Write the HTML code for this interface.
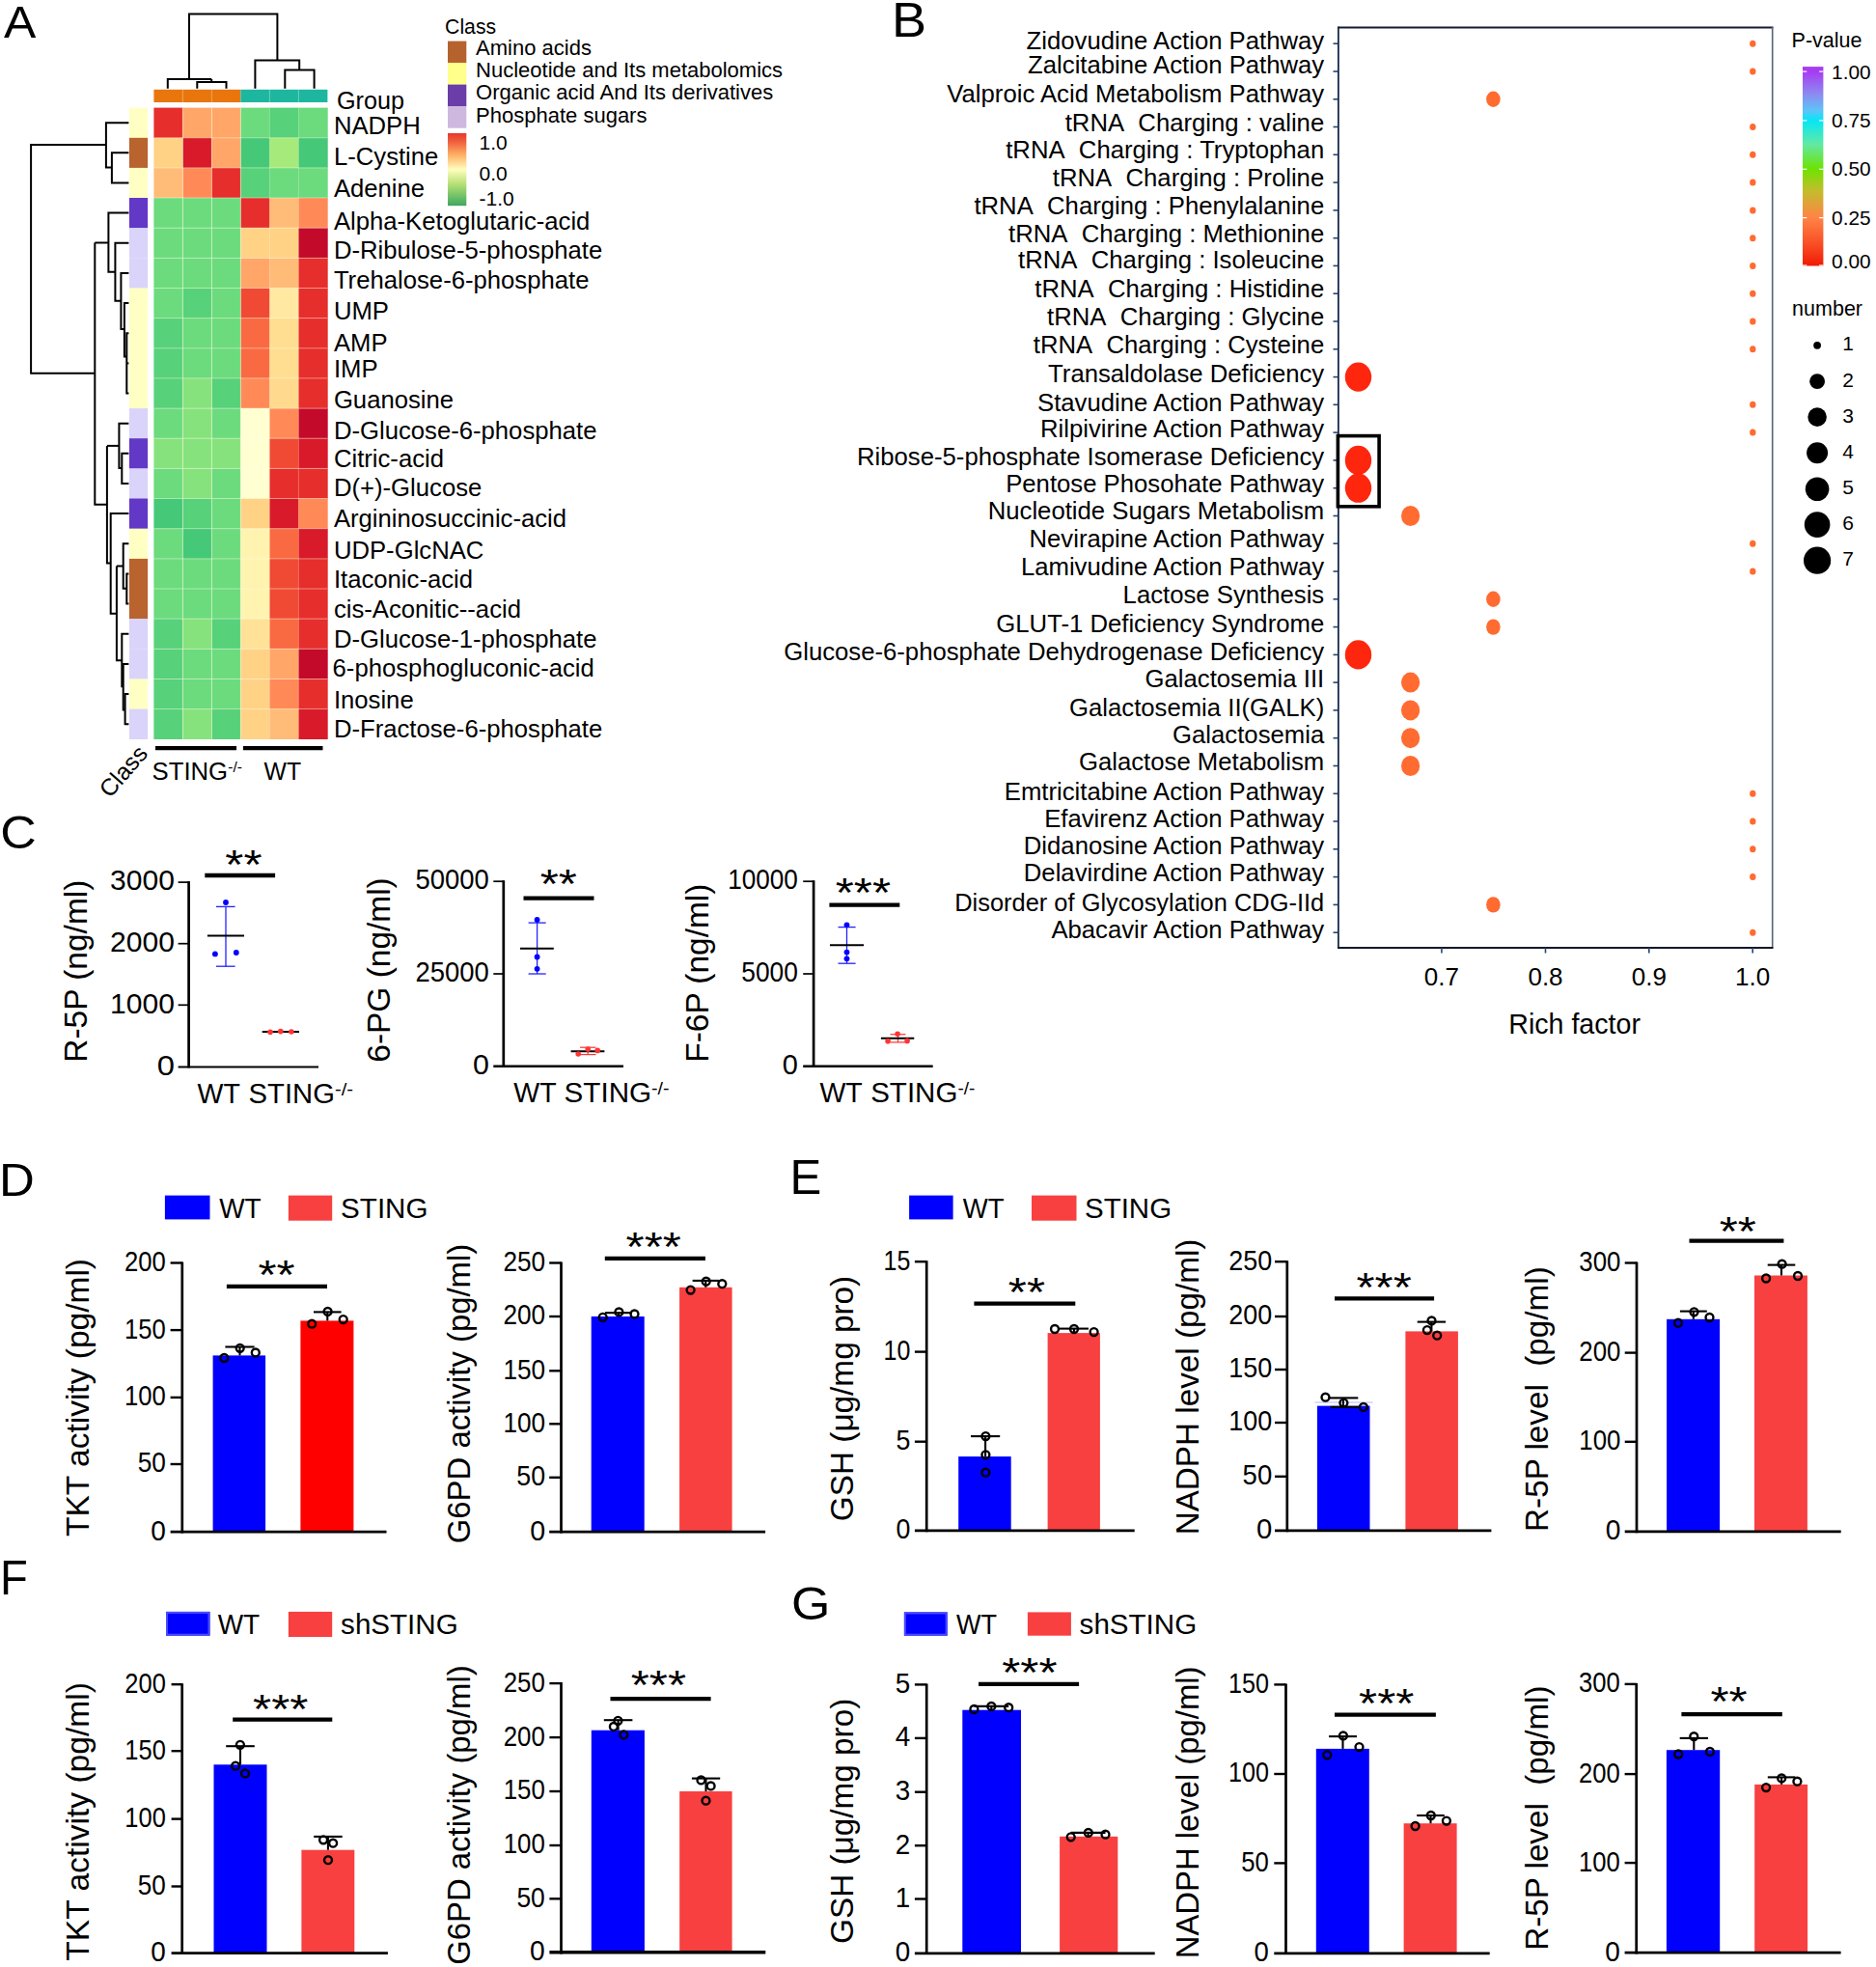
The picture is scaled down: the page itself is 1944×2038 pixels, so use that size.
<!DOCTYPE html>
<html lang="en"><head><meta charset="utf-8"><title>Figure</title>
<style>html,body{margin:0;padding:0;background:#fff}svg{display:block}text{font-family:'Liberation Sans', sans-serif;fill:#000;white-space:pre}</style></head><body>
<svg width="1944" height="2038" viewBox="0 0 1944 2038">
<defs>
<linearGradient id="gA" x1="0" y1="0" x2="0" y2="1"><stop offset="0" stop-color="#E5382E"/><stop offset="0.12" stop-color="#F0603C"/><stop offset="0.3" stop-color="#FDB165"/><stop offset="0.5" stop-color="#FFFDBE"/><stop offset="0.7" stop-color="#B7E075"/><stop offset="0.88" stop-color="#6CBF68"/><stop offset="1" stop-color="#3FA760"/></linearGradient>
<linearGradient id="gB" x1="0" y1="0" x2="0" y2="1"><stop offset="0" stop-color="#A63CF2"/><stop offset="0.024" stop-color="#A63CF2"/><stop offset="0.14" stop-color="#8C8CF0"/><stop offset="0.22" stop-color="#5CC4F8"/><stop offset="0.27" stop-color="#06E6F6"/><stop offset="0.39" stop-color="#62E9A4"/><stop offset="0.514" stop-color="#6EE200"/><stop offset="0.62" stop-color="#C2BE2C"/><stop offset="0.757" stop-color="#FF8446"/><stop offset="0.9" stop-color="#F84A22"/><stop offset="1" stop-color="#F01A04"/></linearGradient>
</defs>
<rect width="1944" height="2038" fill="#fff"/>
<text transform="translate(4.05,39.00) scale(1.071,1)" font-size="46.7">A</text>
<text transform="translate(924.06,37.50) scale(1.081,1)" font-size="50.1">B</text>
<text transform="translate(0.20,878.92) scale(1.071,1)" font-size="48.5">C</text>
<text transform="translate(-1.07,1238.60) scale(1.075,1)" font-size="47.4">D</text>
<text transform="translate(818.47,1237.30) scale(0.969,1)" font-size="50.7">E</text>
<text transform="translate(0.03,1652.00) scale(0.951,1)" font-size="49.6">F</text>
<text transform="translate(820.00,1677.81) scale(1.059,1)" font-size="49.0">G</text>
<g id="panelA">
<rect x="159.4" y="111.6" width="30.3" height="31.4" fill="#E62E2C"/>
<rect x="189.4" y="111.6" width="30.3" height="31.4" fill="#FFA668"/>
<rect x="219.4" y="111.6" width="30.3" height="31.4" fill="#FFA668"/>
<rect x="249.4" y="111.6" width="30.3" height="31.4" fill="#6BDB7E"/>
<rect x="279.4" y="111.6" width="30.3" height="31.4" fill="#57D17A"/>
<rect x="309.4" y="111.6" width="30.3" height="31.4" fill="#6BDB7E"/>
<rect x="159.4" y="142.8" width="30.3" height="31.4" fill="#FFD285"/>
<rect x="189.4" y="142.8" width="30.3" height="31.4" fill="#D81A2A"/>
<rect x="219.4" y="142.8" width="30.3" height="31.4" fill="#FFA668"/>
<rect x="249.4" y="142.8" width="30.3" height="31.4" fill="#45C877"/>
<rect x="279.4" y="142.8" width="30.3" height="31.4" fill="#A6EA7C"/>
<rect x="309.4" y="142.8" width="30.3" height="31.4" fill="#45C877"/>
<rect x="159.4" y="173.9" width="30.3" height="31.4" fill="#FFBC78"/>
<rect x="189.4" y="173.9" width="30.3" height="31.4" fill="#FF8A58"/>
<rect x="219.4" y="173.9" width="30.3" height="31.4" fill="#E62E2C"/>
<rect x="249.4" y="173.9" width="30.3" height="31.4" fill="#57D17A"/>
<rect x="279.4" y="173.9" width="30.3" height="31.4" fill="#6BDB7E"/>
<rect x="309.4" y="173.9" width="30.3" height="31.4" fill="#6BDB7E"/>
<rect x="159.4" y="205.0" width="30.3" height="31.4" fill="#6BDB7E"/>
<rect x="189.4" y="205.0" width="30.3" height="31.4" fill="#6BDB7E"/>
<rect x="219.4" y="205.0" width="30.3" height="31.4" fill="#6BDB7E"/>
<rect x="249.4" y="205.0" width="30.3" height="31.4" fill="#E62E2C"/>
<rect x="279.4" y="205.0" width="30.3" height="31.4" fill="#FFBC78"/>
<rect x="309.4" y="205.0" width="30.3" height="31.4" fill="#FF8A58"/>
<rect x="159.4" y="236.2" width="30.3" height="31.4" fill="#6BDB7E"/>
<rect x="189.4" y="236.2" width="30.3" height="31.4" fill="#6BDB7E"/>
<rect x="219.4" y="236.2" width="30.3" height="31.4" fill="#6BDB7E"/>
<rect x="249.4" y="236.2" width="30.3" height="31.4" fill="#FFD285"/>
<rect x="279.4" y="236.2" width="30.3" height="31.4" fill="#FFD285"/>
<rect x="309.4" y="236.2" width="30.3" height="31.4" fill="#C40A2A"/>
<rect x="159.4" y="267.4" width="30.3" height="31.4" fill="#6BDB7E"/>
<rect x="189.4" y="267.4" width="30.3" height="31.4" fill="#6BDB7E"/>
<rect x="219.4" y="267.4" width="30.3" height="31.4" fill="#6BDB7E"/>
<rect x="249.4" y="267.4" width="30.3" height="31.4" fill="#FFA668"/>
<rect x="279.4" y="267.4" width="30.3" height="31.4" fill="#FFBC78"/>
<rect x="309.4" y="267.4" width="30.3" height="31.4" fill="#E62E2C"/>
<rect x="159.4" y="298.5" width="30.3" height="31.4" fill="#6BDB7E"/>
<rect x="189.4" y="298.5" width="30.3" height="31.4" fill="#57D17A"/>
<rect x="219.4" y="298.5" width="30.3" height="31.4" fill="#6BDB7E"/>
<rect x="249.4" y="298.5" width="30.3" height="31.4" fill="#F04A34"/>
<rect x="279.4" y="298.5" width="30.3" height="31.4" fill="#FFE8A2"/>
<rect x="309.4" y="298.5" width="30.3" height="31.4" fill="#E62E2C"/>
<rect x="159.4" y="329.6" width="30.3" height="31.4" fill="#57D17A"/>
<rect x="189.4" y="329.6" width="30.3" height="31.4" fill="#6BDB7E"/>
<rect x="219.4" y="329.6" width="30.3" height="31.4" fill="#6BDB7E"/>
<rect x="249.4" y="329.6" width="30.3" height="31.4" fill="#FA6A42"/>
<rect x="279.4" y="329.6" width="30.3" height="31.4" fill="#FFDE92"/>
<rect x="309.4" y="329.6" width="30.3" height="31.4" fill="#E62E2C"/>
<rect x="159.4" y="360.8" width="30.3" height="31.4" fill="#57D17A"/>
<rect x="189.4" y="360.8" width="30.3" height="31.4" fill="#6BDB7E"/>
<rect x="219.4" y="360.8" width="30.3" height="31.4" fill="#6BDB7E"/>
<rect x="249.4" y="360.8" width="30.3" height="31.4" fill="#FA6A42"/>
<rect x="279.4" y="360.8" width="30.3" height="31.4" fill="#FFDE92"/>
<rect x="309.4" y="360.8" width="30.3" height="31.4" fill="#E62E2C"/>
<rect x="159.4" y="391.9" width="30.3" height="31.4" fill="#57D17A"/>
<rect x="189.4" y="391.9" width="30.3" height="31.4" fill="#86E27C"/>
<rect x="219.4" y="391.9" width="30.3" height="31.4" fill="#57D17A"/>
<rect x="249.4" y="391.9" width="30.3" height="31.4" fill="#FF8A58"/>
<rect x="279.4" y="391.9" width="30.3" height="31.4" fill="#FFDA8E"/>
<rect x="309.4" y="391.9" width="30.3" height="31.4" fill="#E62E2C"/>
<rect x="159.4" y="423.1" width="30.3" height="31.4" fill="#6BDB7E"/>
<rect x="189.4" y="423.1" width="30.3" height="31.4" fill="#86E27C"/>
<rect x="219.4" y="423.1" width="30.3" height="31.4" fill="#6BDB7E"/>
<rect x="249.4" y="423.1" width="30.3" height="31.4" fill="#FFFFD2"/>
<rect x="279.4" y="423.1" width="30.3" height="31.4" fill="#FF8A58"/>
<rect x="309.4" y="423.1" width="30.3" height="31.4" fill="#C40A2A"/>
<rect x="159.4" y="454.2" width="30.3" height="31.4" fill="#86E27C"/>
<rect x="189.4" y="454.2" width="30.3" height="31.4" fill="#86E27C"/>
<rect x="219.4" y="454.2" width="30.3" height="31.4" fill="#86E27C"/>
<rect x="249.4" y="454.2" width="30.3" height="31.4" fill="#FFFFD2"/>
<rect x="279.4" y="454.2" width="30.3" height="31.4" fill="#F04A34"/>
<rect x="309.4" y="454.2" width="30.3" height="31.4" fill="#D81A2A"/>
<rect x="159.4" y="485.4" width="30.3" height="31.4" fill="#6BDB7E"/>
<rect x="189.4" y="485.4" width="30.3" height="31.4" fill="#86E27C"/>
<rect x="219.4" y="485.4" width="30.3" height="31.4" fill="#6BDB7E"/>
<rect x="249.4" y="485.4" width="30.3" height="31.4" fill="#FFFFD2"/>
<rect x="279.4" y="485.4" width="30.3" height="31.4" fill="#E62E2C"/>
<rect x="309.4" y="485.4" width="30.3" height="31.4" fill="#E62E2C"/>
<rect x="159.4" y="516.5" width="30.3" height="31.4" fill="#45C877"/>
<rect x="189.4" y="516.5" width="30.3" height="31.4" fill="#57D17A"/>
<rect x="219.4" y="516.5" width="30.3" height="31.4" fill="#6BDB7E"/>
<rect x="249.4" y="516.5" width="30.3" height="31.4" fill="#FFD285"/>
<rect x="279.4" y="516.5" width="30.3" height="31.4" fill="#D81A2A"/>
<rect x="309.4" y="516.5" width="30.3" height="31.4" fill="#FF8A58"/>
<rect x="159.4" y="547.7" width="30.3" height="31.4" fill="#6BDB7E"/>
<rect x="189.4" y="547.7" width="30.3" height="31.4" fill="#45C877"/>
<rect x="219.4" y="547.7" width="30.3" height="31.4" fill="#6BDB7E"/>
<rect x="249.4" y="547.7" width="30.3" height="31.4" fill="#FFF3B0"/>
<rect x="279.4" y="547.7" width="30.3" height="31.4" fill="#FA6A42"/>
<rect x="309.4" y="547.7" width="30.3" height="31.4" fill="#D81A2A"/>
<rect x="159.4" y="578.9" width="30.3" height="31.4" fill="#6BDB7E"/>
<rect x="189.4" y="578.9" width="30.3" height="31.4" fill="#6BDB7E"/>
<rect x="219.4" y="578.9" width="30.3" height="31.4" fill="#6BDB7E"/>
<rect x="249.4" y="578.9" width="30.3" height="31.4" fill="#FFF3B0"/>
<rect x="279.4" y="578.9" width="30.3" height="31.4" fill="#F04A34"/>
<rect x="309.4" y="578.9" width="30.3" height="31.4" fill="#E62E2C"/>
<rect x="159.4" y="610.0" width="30.3" height="31.4" fill="#6BDB7E"/>
<rect x="189.4" y="610.0" width="30.3" height="31.4" fill="#6BDB7E"/>
<rect x="219.4" y="610.0" width="30.3" height="31.4" fill="#6BDB7E"/>
<rect x="249.4" y="610.0" width="30.3" height="31.4" fill="#FFF3B0"/>
<rect x="279.4" y="610.0" width="30.3" height="31.4" fill="#F04A34"/>
<rect x="309.4" y="610.0" width="30.3" height="31.4" fill="#E62E2C"/>
<rect x="159.4" y="641.1" width="30.3" height="31.4" fill="#57D17A"/>
<rect x="189.4" y="641.1" width="30.3" height="31.4" fill="#86E27C"/>
<rect x="219.4" y="641.1" width="30.3" height="31.4" fill="#57D17A"/>
<rect x="249.4" y="641.1" width="30.3" height="31.4" fill="#FFE298"/>
<rect x="279.4" y="641.1" width="30.3" height="31.4" fill="#FA6A42"/>
<rect x="309.4" y="641.1" width="30.3" height="31.4" fill="#E62E2C"/>
<rect x="159.4" y="672.3" width="30.3" height="31.4" fill="#57D17A"/>
<rect x="189.4" y="672.3" width="30.3" height="31.4" fill="#6BDB7E"/>
<rect x="219.4" y="672.3" width="30.3" height="31.4" fill="#6BDB7E"/>
<rect x="249.4" y="672.3" width="30.3" height="31.4" fill="#FFD285"/>
<rect x="279.4" y="672.3" width="30.3" height="31.4" fill="#FFA668"/>
<rect x="309.4" y="672.3" width="30.3" height="31.4" fill="#C40A2A"/>
<rect x="159.4" y="703.5" width="30.3" height="31.4" fill="#57D17A"/>
<rect x="189.4" y="703.5" width="30.3" height="31.4" fill="#6BDB7E"/>
<rect x="219.4" y="703.5" width="30.3" height="31.4" fill="#6BDB7E"/>
<rect x="249.4" y="703.5" width="30.3" height="31.4" fill="#FFD285"/>
<rect x="279.4" y="703.5" width="30.3" height="31.4" fill="#FF8A58"/>
<rect x="309.4" y="703.5" width="30.3" height="31.4" fill="#E62E2C"/>
<rect x="159.4" y="734.6" width="30.3" height="31.4" fill="#57D17A"/>
<rect x="189.4" y="734.6" width="30.3" height="31.4" fill="#86E27C"/>
<rect x="219.4" y="734.6" width="30.3" height="31.4" fill="#57D17A"/>
<rect x="249.4" y="734.6" width="30.3" height="31.4" fill="#FFD285"/>
<rect x="279.4" y="734.6" width="30.3" height="31.4" fill="#FFBC78"/>
<rect x="309.4" y="734.6" width="30.3" height="31.4" fill="#D81A2A"/>
<line x1="189.4" y1="111.6" x2="189.4" y2="765.8" stroke="rgba(255,255,225,0.55)" stroke-width="1.00"/>
<line x1="219.4" y1="111.6" x2="219.4" y2="765.8" stroke="rgba(255,255,225,0.55)" stroke-width="1.00"/>
<line x1="249.4" y1="111.6" x2="249.4" y2="765.8" stroke="rgba(255,255,225,0.55)" stroke-width="1.00"/>
<line x1="279.4" y1="111.6" x2="279.4" y2="765.8" stroke="rgba(255,255,225,0.18)" stroke-width="1.00"/>
<line x1="309.4" y1="111.6" x2="309.4" y2="765.8" stroke="rgba(255,255,225,0.18)" stroke-width="1.00"/>
<line x1="159.4" y1="142.8" x2="339.4" y2="142.8" stroke="rgba(255,255,225,0.45)" stroke-width="1.00"/>
<line x1="159.4" y1="173.9" x2="339.4" y2="173.9" stroke="rgba(255,255,225,0.45)" stroke-width="1.00"/>
<line x1="159.4" y1="205.0" x2="339.4" y2="205.0" stroke="rgba(255,255,225,0.45)" stroke-width="1.00"/>
<line x1="159.4" y1="236.2" x2="339.4" y2="236.2" stroke="rgba(255,255,225,0.45)" stroke-width="1.00"/>
<line x1="159.4" y1="267.4" x2="339.4" y2="267.4" stroke="rgba(255,255,225,0.45)" stroke-width="1.00"/>
<line x1="159.4" y1="298.5" x2="339.4" y2="298.5" stroke="rgba(255,255,225,0.45)" stroke-width="1.00"/>
<line x1="159.4" y1="329.6" x2="339.4" y2="329.6" stroke="rgba(255,255,225,0.45)" stroke-width="1.00"/>
<line x1="159.4" y1="360.8" x2="339.4" y2="360.8" stroke="rgba(255,255,225,0.45)" stroke-width="1.00"/>
<line x1="159.4" y1="391.9" x2="339.4" y2="391.9" stroke="rgba(255,255,225,0.45)" stroke-width="1.00"/>
<line x1="159.4" y1="423.1" x2="339.4" y2="423.1" stroke="rgba(255,255,225,0.45)" stroke-width="1.00"/>
<line x1="159.4" y1="454.2" x2="339.4" y2="454.2" stroke="rgba(255,255,225,0.45)" stroke-width="1.00"/>
<line x1="159.4" y1="485.4" x2="339.4" y2="485.4" stroke="rgba(255,255,225,0.45)" stroke-width="1.00"/>
<line x1="159.4" y1="516.5" x2="339.4" y2="516.5" stroke="rgba(255,255,225,0.45)" stroke-width="1.00"/>
<line x1="159.4" y1="547.7" x2="339.4" y2="547.7" stroke="rgba(255,255,225,0.45)" stroke-width="1.00"/>
<line x1="159.4" y1="578.9" x2="339.4" y2="578.9" stroke="rgba(255,255,225,0.45)" stroke-width="1.00"/>
<line x1="159.4" y1="610.0" x2="339.4" y2="610.0" stroke="rgba(255,255,225,0.45)" stroke-width="1.00"/>
<line x1="159.4" y1="641.1" x2="339.4" y2="641.1" stroke="rgba(255,255,225,0.45)" stroke-width="1.00"/>
<line x1="159.4" y1="672.3" x2="339.4" y2="672.3" stroke="rgba(255,255,225,0.45)" stroke-width="1.00"/>
<line x1="159.4" y1="703.5" x2="339.4" y2="703.5" stroke="rgba(255,255,225,0.45)" stroke-width="1.00"/>
<line x1="159.4" y1="734.6" x2="339.4" y2="734.6" stroke="rgba(255,255,225,0.45)" stroke-width="1.00"/>
<rect x="159.4" y="92.8" width="90.0" height="13.2" fill="#E8760C"/>
<rect x="249.4" y="92.8" width="90.0" height="13.2" fill="#1DB7A0"/>
<line x1="189.4" y1="92.8" x2="189.4" y2="106.0" stroke="rgba(255,255,225,0.35)" stroke-width="1.00"/>
<line x1="219.4" y1="92.8" x2="219.4" y2="106.0" stroke="rgba(255,255,225,0.35)" stroke-width="1.00"/>
<line x1="279.4" y1="92.8" x2="279.4" y2="106.0" stroke="rgba(255,255,225,0.35)" stroke-width="1.00"/>
<line x1="309.4" y1="92.8" x2="309.4" y2="106.0" stroke="rgba(255,255,225,0.35)" stroke-width="1.00"/>
<rect x="133.9" y="111.6" width="19.2" height="31.4" fill="#FFFFC4"/>
<rect x="133.9" y="142.8" width="19.2" height="31.4" fill="#B9632F"/>
<rect x="133.9" y="173.9" width="19.2" height="31.4" fill="#FFFFC4"/>
<rect x="133.9" y="205.0" width="19.2" height="31.4" fill="#6238C6"/>
<rect x="133.9" y="236.2" width="19.2" height="31.4" fill="#DAD4FA"/>
<rect x="133.9" y="267.4" width="19.2" height="31.4" fill="#DAD4FA"/>
<rect x="133.9" y="298.5" width="19.2" height="31.4" fill="#FFFFC4"/>
<rect x="133.9" y="329.6" width="19.2" height="31.4" fill="#FFFFC4"/>
<rect x="133.9" y="360.8" width="19.2" height="31.4" fill="#FFFFC4"/>
<rect x="133.9" y="391.9" width="19.2" height="31.4" fill="#FFFFC4"/>
<rect x="133.9" y="423.1" width="19.2" height="31.4" fill="#DAD4FA"/>
<rect x="133.9" y="454.2" width="19.2" height="31.4" fill="#6238C6"/>
<rect x="133.9" y="485.4" width="19.2" height="31.4" fill="#DAD4FA"/>
<rect x="133.9" y="516.5" width="19.2" height="31.4" fill="#6238C6"/>
<rect x="133.9" y="547.7" width="19.2" height="31.4" fill="#FFFFC4"/>
<rect x="133.9" y="578.9" width="19.2" height="31.4" fill="#B9632F"/>
<rect x="133.9" y="610.0" width="19.2" height="31.4" fill="#B9632F"/>
<rect x="133.9" y="641.1" width="19.2" height="31.4" fill="#DAD4FA"/>
<rect x="133.9" y="672.3" width="19.2" height="31.4" fill="#DAD4FA"/>
<rect x="133.9" y="703.5" width="19.2" height="31.4" fill="#FFFFC4"/>
<rect x="133.9" y="734.6" width="19.2" height="31.4" fill="#DAD4FA"/>
<path d="M196,82 V14.5 H287.4 V62.5" fill="none" stroke="#000" stroke-width="2.0" stroke-linejoin="miter"/>
<path d="M173.8,91.7 V82 H219.2" fill="none" stroke="#000" stroke-width="2.0" stroke-linejoin="miter"/>
<path d="M204.3,91.7 V84.9 H234.5 V91.7" fill="none" stroke="#000" stroke-width="2.0" stroke-linejoin="miter"/>
<path d="M219.2,84.9 V82" fill="none" stroke="#000" stroke-width="2.0" stroke-linejoin="miter"/>
<path d="M264.4,91.7 V62.5 H310.2 V72.5" fill="none" stroke="#000" stroke-width="2.0" stroke-linejoin="miter"/>
<path d="M295.3,91.7 V72.5 H325.6 V91.7" fill="none" stroke="#000" stroke-width="2.0" stroke-linejoin="miter"/>
<path d="M109.9,150.1 H32.1 V386.8 H98.3" fill="none" stroke="#000" stroke-width="2.0" stroke-linejoin="miter"/>
<path d="M133.4,127.2 H109.9 V173.4 H115.9" fill="none" stroke="#000" stroke-width="2.0" stroke-linejoin="miter"/>
<path d="M133.4,158.3 H115.9 V189.5 H133.4" fill="none" stroke="#000" stroke-width="2.0" stroke-linejoin="miter"/>
<path d="M98.3,251.5 V522.8 H110.9" fill="none" stroke="#000" stroke-width="2.0" stroke-linejoin="miter"/>
<path d="M98.3,251.5 H112.4" fill="none" stroke="#000" stroke-width="2.0" stroke-linejoin="miter"/>
<path d="M133.4,220.6 H112.4 V281.8 H119.4" fill="none" stroke="#000" stroke-width="2.0" stroke-linejoin="miter"/>
<path d="M133.4,251.8 H119.4 V311.7 H125.4" fill="none" stroke="#000" stroke-width="2.0" stroke-linejoin="miter"/>
<path d="M133.4,282.9 H125.4 V341 H128.9" fill="none" stroke="#000" stroke-width="2.0" stroke-linejoin="miter"/>
<path d="M133.4,314.1 H128.9 V369.6 H131.3" fill="none" stroke="#000" stroke-width="2.0" stroke-linejoin="miter"/>
<path d="M133.4,345.2 H131.3 V407.5 H133.4" fill="none" stroke="#000" stroke-width="2.0" stroke-linejoin="miter"/>
<path d="M131.3,376.4 H133.4" fill="none" stroke="#000" stroke-width="2.0" stroke-linejoin="miter"/>
<path d="M110.9,461.9 V583.6 H114.7" fill="none" stroke="#000" stroke-width="2.0" stroke-linejoin="miter"/>
<path d="M110.9,461.9 H123.4" fill="none" stroke="#000" stroke-width="2.0" stroke-linejoin="miter"/>
<path d="M133.4,438.7 H123.4 V485 H126.3" fill="none" stroke="#000" stroke-width="2.0" stroke-linejoin="miter"/>
<path d="M133.4,469.8 H126.3 V501.0 H133.4" fill="none" stroke="#000" stroke-width="2.0" stroke-linejoin="miter"/>
<path d="M133.4,532.1 H114.7 V635.8 H120.9" fill="none" stroke="#000" stroke-width="2.0" stroke-linejoin="miter"/>
<path d="M120.9,586.5 V684.2 H126.3" fill="none" stroke="#000" stroke-width="2.0" stroke-linejoin="miter"/>
<path d="M120.9,586.5 H127.7" fill="none" stroke="#000" stroke-width="2.0" stroke-linejoin="miter"/>
<path d="M133.4,563.3 H127.7 V609.7 H131.3" fill="none" stroke="#000" stroke-width="2.0" stroke-linejoin="miter"/>
<path d="M133.4,594.4 H131.3 V625.6 H133.4" fill="none" stroke="#000" stroke-width="2.0" stroke-linejoin="miter"/>
<path d="M133.4,656.7 H126.3 V711.2 H127.7" fill="none" stroke="#000" stroke-width="2.0" stroke-linejoin="miter"/>
<path d="M133.4,687.9 H127.7 V735.4 H129.6" fill="none" stroke="#000" stroke-width="2.0" stroke-linejoin="miter"/>
<path d="M133.4,719.0 H129.6 V750.2 H133.4" fill="none" stroke="#000" stroke-width="2.0" stroke-linejoin="miter"/>
<text x="349.0" y="112.8" font-size="25.2">Group</text>
<text x="345.9" y="138.7" font-size="26.2" textLength="89.9" lengthAdjust="spacingAndGlyphs">NADPH</text>
<text x="345.9" y="170.7" font-size="26.2" textLength="108.5" lengthAdjust="spacingAndGlyphs">L-Cystine</text>
<text x="345.9" y="204.2" font-size="26.2" textLength="94.2" lengthAdjust="spacingAndGlyphs">Adenine</text>
<text x="345.9" y="237.7" font-size="26.2" textLength="265.5" lengthAdjust="spacingAndGlyphs">Alpha-Ketoglutaric-acid</text>
<text x="345.9" y="267.9" font-size="26.2" textLength="278.3" lengthAdjust="spacingAndGlyphs">D-Ribulose-5-phosphate</text>
<text x="345.9" y="299.4" font-size="26.2" textLength="264.6" lengthAdjust="spacingAndGlyphs">Trehalose-6-phosphate</text>
<text x="345.9" y="330.6" font-size="26.2" textLength="57.1" lengthAdjust="spacingAndGlyphs">UMP</text>
<text x="345.9" y="363.5" font-size="26.2" textLength="55.6" lengthAdjust="spacingAndGlyphs">AMP</text>
<text x="345.9" y="391.1" font-size="26.2" textLength="45.7" lengthAdjust="spacingAndGlyphs">IMP</text>
<text x="345.9" y="422.7" font-size="26.2" textLength="124.2" lengthAdjust="spacingAndGlyphs">Guanosine</text>
<text x="345.9" y="455.1" font-size="26.2" textLength="272.6" lengthAdjust="spacingAndGlyphs">D-Glucose-6-phosphate</text>
<text x="345.9" y="483.9" font-size="26.2" textLength="114.1" lengthAdjust="spacingAndGlyphs">Citric-acid</text>
<text x="345.9" y="514.4" font-size="26.2" textLength="153.4" lengthAdjust="spacingAndGlyphs">D(+)-Glucose</text>
<text x="345.9" y="545.8" font-size="26.2" textLength="241.2" lengthAdjust="spacingAndGlyphs">Argininosuccinic-acid</text>
<text x="345.9" y="579.3" font-size="26.2" textLength="155.5" lengthAdjust="spacingAndGlyphs">UDP-GlcNAC</text>
<text x="345.9" y="609.3" font-size="26.2" textLength="144.2" lengthAdjust="spacingAndGlyphs">Itaconic-acid</text>
<text x="345.9" y="639.5" font-size="26.2" textLength="194.1" lengthAdjust="spacingAndGlyphs">cis-Aconitic--acid</text>
<text x="345.9" y="671.4" font-size="26.2" textLength="272.6" lengthAdjust="spacingAndGlyphs">D-Glucose-1-phosphate</text>
<text x="344.6" y="700.6" font-size="26.2" textLength="271.2" lengthAdjust="spacingAndGlyphs">6-phosphogluconic-acid</text>
<text x="345.9" y="733.5" font-size="26.2" textLength="82.8" lengthAdjust="spacingAndGlyphs">Inosine</text>
<text x="345.9" y="764.2" font-size="26.2" textLength="278.3" lengthAdjust="spacingAndGlyphs">D-Fractose-6-phosphate</text>
<text x="461.1" y="35.2" font-size="21.2">Class</text>
<rect x="464.0" y="42.6" width="19.3" height="22.6" fill="#B5622E"/>
<text x="493.1" y="56.8" font-size="22.0">Amino acids</text>
<rect x="464.0" y="65.1" width="19.3" height="22.6" fill="#FFFF8C"/>
<text x="493.1" y="80.0" font-size="22.0">Nucleotide and Its metabolomics</text>
<rect x="464.0" y="87.6" width="19.3" height="22.6" fill="#6A3DA8"/>
<text x="493.1" y="103.4" font-size="22.0">Organic acid And Its derivatives</text>
<rect x="464.0" y="110.1" width="19.3" height="22.6" fill="#CEB8E0"/>
<text x="493.1" y="127.1" font-size="22.0">Phosphate sugars</text>
<rect x="464.0" y="138.0" width="19.3" height="75.2" fill="url(#gA)"/>
<text x="496.6" y="154.6" font-size="21.0">1.0</text>
<text x="496.6" y="186.6" font-size="21.0">0.0</text>
<text x="496.6" y="212.7" font-size="21.0">-1.0</text>
<line x1="161.0" y1="775.1" x2="245.1" y2="775.1" stroke="#000" stroke-width="4.30"/>
<line x1="251.9" y1="775.1" x2="334.5" y2="775.1" stroke="#000" stroke-width="4.30"/>
<text x="157.6" y="808.0" font-size="25.5" textLength="78.5" lengthAdjust="spacingAndGlyphs">STING</text>
<text x="236.3" y="799.5" font-size="15.5">-/-</text>
<text x="273.6" y="808.0" font-size="25.5" textLength="38.5" lengthAdjust="spacingAndGlyphs">WT</text>
<text transform="translate(114.0,827.8) rotate(-49)" font-size="24.5">Class</text>
</g>
<g id="panelB">
<text x="1372.2" y="50.8" font-size="26.2" text-anchor="end" textLength="308.6" lengthAdjust="spacingAndGlyphs">Zidovudine Action Pathway</text>
<line x1="1381.5" y1="45.2" x2="1387.0" y2="45.2" stroke="#2C4470" stroke-width="1.60"/>
<ellipse cx="1816.3" cy="45.2" rx="3.2" ry="3.5" fill="#FF6B30"/>
<text x="1372.2" y="76.3" font-size="26.2" text-anchor="end" textLength="307.1" lengthAdjust="spacingAndGlyphs">Zalcitabine Action Pathway</text>
<line x1="1381.5" y1="74.0" x2="1387.0" y2="74.0" stroke="#2C4470" stroke-width="1.60"/>
<ellipse cx="1816.3" cy="74.0" rx="3.2" ry="3.5" fill="#FF6B30"/>
<text x="1372.2" y="105.7" font-size="26.2" text-anchor="end" textLength="390.9" lengthAdjust="spacingAndGlyphs">Valproic Acid Metabolism Pathway</text>
<line x1="1381.5" y1="102.8" x2="1387.0" y2="102.8" stroke="#2C4470" stroke-width="1.60"/>
<ellipse cx="1547.4" cy="102.8" rx="7.3" ry="8.2" fill="#FF6B30"/>
<text x="1372.2" y="136.0" font-size="26.2" text-anchor="end" textLength="268.5" lengthAdjust="spacingAndGlyphs">tRNA  Charging : valine</text>
<line x1="1381.5" y1="131.5" x2="1387.0" y2="131.5" stroke="#2C4470" stroke-width="1.60"/>
<ellipse cx="1816.3" cy="131.5" rx="3.2" ry="3.5" fill="#FF6B30"/>
<text x="1372.2" y="164.4" font-size="26.2" text-anchor="end" textLength="330.0" lengthAdjust="spacingAndGlyphs">tRNA  Charging : Tryptophan</text>
<line x1="1381.5" y1="160.3" x2="1387.0" y2="160.3" stroke="#2C4470" stroke-width="1.60"/>
<ellipse cx="1816.3" cy="160.3" rx="3.2" ry="3.5" fill="#FF6B30"/>
<text x="1372.2" y="193.4" font-size="26.2" text-anchor="end" textLength="281.4" lengthAdjust="spacingAndGlyphs">tRNA  Charging : Proline</text>
<line x1="1381.5" y1="189.1" x2="1387.0" y2="189.1" stroke="#2C4470" stroke-width="1.60"/>
<ellipse cx="1816.3" cy="189.1" rx="3.2" ry="3.5" fill="#FF6B30"/>
<text x="1372.2" y="222.4" font-size="26.2" text-anchor="end" textLength="362.8" lengthAdjust="spacingAndGlyphs">tRNA  Charging : Phenylalanine</text>
<line x1="1381.5" y1="217.9" x2="1387.0" y2="217.9" stroke="#2C4470" stroke-width="1.60"/>
<ellipse cx="1816.3" cy="217.9" rx="3.2" ry="3.5" fill="#FF6B30"/>
<text x="1372.2" y="251.4" font-size="26.2" text-anchor="end" textLength="327.1" lengthAdjust="spacingAndGlyphs">tRNA  Charging : Methionine</text>
<line x1="1381.5" y1="246.7" x2="1387.0" y2="246.7" stroke="#2C4470" stroke-width="1.60"/>
<ellipse cx="1816.3" cy="246.7" rx="3.2" ry="3.5" fill="#FF6B30"/>
<text x="1372.2" y="277.6" font-size="26.2" text-anchor="end" textLength="317.1" lengthAdjust="spacingAndGlyphs">tRNA  Charging : Isoleucine</text>
<line x1="1381.5" y1="275.4" x2="1387.0" y2="275.4" stroke="#2C4470" stroke-width="1.60"/>
<ellipse cx="1816.3" cy="275.4" rx="3.2" ry="3.5" fill="#FF6B30"/>
<text x="1372.2" y="308.3" font-size="26.2" text-anchor="end" textLength="299.9" lengthAdjust="spacingAndGlyphs">tRNA  Charging : Histidine</text>
<line x1="1381.5" y1="304.2" x2="1387.0" y2="304.2" stroke="#2C4470" stroke-width="1.60"/>
<ellipse cx="1816.3" cy="304.2" rx="3.2" ry="3.5" fill="#FF6B30"/>
<text x="1372.2" y="336.6" font-size="26.2" text-anchor="end" textLength="287.1" lengthAdjust="spacingAndGlyphs">tRNA  Charging : Glycine</text>
<line x1="1381.5" y1="333.0" x2="1387.0" y2="333.0" stroke="#2C4470" stroke-width="1.60"/>
<ellipse cx="1816.3" cy="333.0" rx="3.2" ry="3.5" fill="#FF6B30"/>
<text x="1372.2" y="365.6" font-size="26.2" text-anchor="end" textLength="301.4" lengthAdjust="spacingAndGlyphs">tRNA  Charging : Cysteine</text>
<line x1="1381.5" y1="361.8" x2="1387.0" y2="361.8" stroke="#2C4470" stroke-width="1.60"/>
<ellipse cx="1816.3" cy="361.8" rx="3.2" ry="3.5" fill="#FF6B30"/>
<text x="1372.2" y="395.8" font-size="26.2" text-anchor="end" textLength="286.1" lengthAdjust="spacingAndGlyphs">Transaldolase Deficiency</text>
<line x1="1381.5" y1="390.6" x2="1387.0" y2="390.6" stroke="#2C4470" stroke-width="1.60"/>
<ellipse cx="1407.5" cy="390.6" rx="13.7" ry="15.1" fill="#FF260E"/>
<text x="1372.2" y="425.6" font-size="26.2" text-anchor="end" textLength="297.2" lengthAdjust="spacingAndGlyphs">Stavudine Action Pathway</text>
<line x1="1381.5" y1="419.3" x2="1387.0" y2="419.3" stroke="#2C4470" stroke-width="1.60"/>
<ellipse cx="1816.3" cy="419.3" rx="3.2" ry="3.5" fill="#FF6B30"/>
<text x="1372.2" y="453.3" font-size="26.2" text-anchor="end" textLength="294.2" lengthAdjust="spacingAndGlyphs">Rilpivirine Action Pathway</text>
<line x1="1381.5" y1="448.1" x2="1387.0" y2="448.1" stroke="#2C4470" stroke-width="1.60"/>
<ellipse cx="1816.3" cy="448.1" rx="3.2" ry="3.5" fill="#FF6B30"/>
<text x="1372.2" y="482.3" font-size="26.2" text-anchor="end" textLength="484.2" lengthAdjust="spacingAndGlyphs">Ribose-5-phosphate Isomerase Deficiency</text>
<line x1="1381.5" y1="476.9" x2="1387.0" y2="476.9" stroke="#2C4470" stroke-width="1.60"/>
<ellipse cx="1407.5" cy="476.9" rx="13.7" ry="15.1" fill="#FF260E"/>
<text x="1372.2" y="510.2" font-size="26.2" text-anchor="end" textLength="330.0" lengthAdjust="spacingAndGlyphs">Pentose Phosohate Pathway</text>
<line x1="1381.5" y1="505.7" x2="1387.0" y2="505.7" stroke="#2C4470" stroke-width="1.60"/>
<ellipse cx="1407.5" cy="505.7" rx="13.7" ry="15.1" fill="#FF260E"/>
<text x="1372.2" y="538.2" font-size="26.2" text-anchor="end" textLength="348.5" lengthAdjust="spacingAndGlyphs">Nucleotide Sugars Metabolism</text>
<line x1="1381.5" y1="534.5" x2="1387.0" y2="534.5" stroke="#2C4470" stroke-width="1.60"/>
<ellipse cx="1461.6" cy="534.5" rx="9.6" ry="10.5" fill="#FF6B30"/>
<text x="1372.2" y="567.2" font-size="26.2" text-anchor="end" textLength="305.7" lengthAdjust="spacingAndGlyphs">Nevirapine Action Pathway</text>
<line x1="1381.5" y1="563.2" x2="1387.0" y2="563.2" stroke="#2C4470" stroke-width="1.60"/>
<ellipse cx="1816.3" cy="563.2" rx="3.2" ry="3.5" fill="#FF6B30"/>
<text x="1372.2" y="596.2" font-size="26.2" text-anchor="end" textLength="314.3" lengthAdjust="spacingAndGlyphs">Lamivudine Action Pathway</text>
<line x1="1381.5" y1="592.0" x2="1387.0" y2="592.0" stroke="#2C4470" stroke-width="1.60"/>
<ellipse cx="1816.3" cy="592.0" rx="3.2" ry="3.5" fill="#FF6B30"/>
<text x="1372.2" y="625.2" font-size="26.2" text-anchor="end" textLength="208.6" lengthAdjust="spacingAndGlyphs">Lactose Synthesis</text>
<line x1="1381.5" y1="620.8" x2="1387.0" y2="620.8" stroke="#2C4470" stroke-width="1.60"/>
<ellipse cx="1547.4" cy="620.8" rx="7.3" ry="8.2" fill="#FF6B30"/>
<text x="1372.2" y="654.6" font-size="26.2" text-anchor="end" textLength="339.9" lengthAdjust="spacingAndGlyphs">GLUT-1 Deficiency Syndrome</text>
<line x1="1381.5" y1="649.6" x2="1387.0" y2="649.6" stroke="#2C4470" stroke-width="1.60"/>
<ellipse cx="1547.4" cy="649.6" rx="7.3" ry="8.2" fill="#FF6B30"/>
<text x="1372.2" y="684.2" font-size="26.2" text-anchor="end" textLength="560.0" lengthAdjust="spacingAndGlyphs">Glucose-6-phosphate Dehydrogenase Deficiency</text>
<line x1="1381.5" y1="678.4" x2="1387.0" y2="678.4" stroke="#2C4470" stroke-width="1.60"/>
<ellipse cx="1407.5" cy="678.4" rx="13.7" ry="15.1" fill="#FF260E"/>
<text x="1372.2" y="712.2" font-size="26.2" text-anchor="end" textLength="185.7" lengthAdjust="spacingAndGlyphs">Galactosemia III</text>
<line x1="1381.5" y1="707.1" x2="1387.0" y2="707.1" stroke="#2C4470" stroke-width="1.60"/>
<ellipse cx="1461.6" cy="707.1" rx="9.6" ry="10.5" fill="#FF6B30"/>
<text x="1372.2" y="741.6" font-size="26.2" text-anchor="end" textLength="264.2" lengthAdjust="spacingAndGlyphs">Galactosemia II(GALK)</text>
<line x1="1381.5" y1="735.9" x2="1387.0" y2="735.9" stroke="#2C4470" stroke-width="1.60"/>
<ellipse cx="1461.6" cy="735.9" rx="9.6" ry="10.5" fill="#FF6B30"/>
<text x="1372.2" y="769.6" font-size="26.2" text-anchor="end" textLength="157.1" lengthAdjust="spacingAndGlyphs">Galactosemia</text>
<line x1="1381.5" y1="764.7" x2="1387.0" y2="764.7" stroke="#2C4470" stroke-width="1.60"/>
<ellipse cx="1461.6" cy="764.7" rx="9.6" ry="10.5" fill="#FF6B30"/>
<text x="1372.2" y="797.5" font-size="26.2" text-anchor="end" textLength="254.2" lengthAdjust="spacingAndGlyphs">Galactose Metabolism</text>
<line x1="1381.5" y1="793.5" x2="1387.0" y2="793.5" stroke="#2C4470" stroke-width="1.60"/>
<ellipse cx="1461.6" cy="793.5" rx="9.6" ry="10.5" fill="#FF6B30"/>
<text x="1372.2" y="828.6" font-size="26.2" text-anchor="end" textLength="331.4" lengthAdjust="spacingAndGlyphs">Emtricitabine Action Pathway</text>
<line x1="1381.5" y1="822.3" x2="1387.0" y2="822.3" stroke="#2C4470" stroke-width="1.60"/>
<ellipse cx="1816.3" cy="822.3" rx="3.2" ry="3.5" fill="#FF6B30"/>
<text x="1372.2" y="856.6" font-size="26.2" text-anchor="end" textLength="290.0" lengthAdjust="spacingAndGlyphs">Efavirenz Action Pathway</text>
<line x1="1381.5" y1="851.0" x2="1387.0" y2="851.0" stroke="#2C4470" stroke-width="1.60"/>
<ellipse cx="1816.3" cy="851.0" rx="3.2" ry="3.5" fill="#FF6B30"/>
<text x="1372.2" y="884.9" font-size="26.2" text-anchor="end" textLength="311.4" lengthAdjust="spacingAndGlyphs">Didanosine Action Pathway</text>
<line x1="1381.5" y1="879.8" x2="1387.0" y2="879.8" stroke="#2C4470" stroke-width="1.60"/>
<ellipse cx="1816.3" cy="879.8" rx="3.2" ry="3.5" fill="#FF6B30"/>
<text x="1372.2" y="912.8" font-size="26.2" text-anchor="end" textLength="311.4" lengthAdjust="spacingAndGlyphs">Delavirdine Action Pathway</text>
<line x1="1381.5" y1="908.6" x2="1387.0" y2="908.6" stroke="#2C4470" stroke-width="1.60"/>
<ellipse cx="1816.3" cy="908.6" rx="3.2" ry="3.5" fill="#FF6B30"/>
<text x="1372.2" y="943.6" font-size="26.2" text-anchor="end" textLength="383.0" lengthAdjust="spacingAndGlyphs">Disorder of Glycosylation CDG-IId</text>
<line x1="1381.5" y1="937.4" x2="1387.0" y2="937.4" stroke="#2C4470" stroke-width="1.60"/>
<ellipse cx="1547.4" cy="937.4" rx="7.3" ry="8.2" fill="#FF6B30"/>
<text x="1372.2" y="971.6" font-size="26.2" text-anchor="end" textLength="282.8" lengthAdjust="spacingAndGlyphs">Abacavir Action Pathway</text>
<line x1="1381.5" y1="966.2" x2="1387.0" y2="966.2" stroke="#2C4470" stroke-width="1.60"/>
<ellipse cx="1816.3" cy="966.2" rx="3.2" ry="3.5" fill="#FF6B30"/>
<line x1="1386.9" y1="27.7" x2="1386.9" y2="982.6" stroke="#1B2A4E" stroke-width="1.80"/>
<line x1="1386.0" y1="28.5" x2="1837.4" y2="28.5" stroke="#141C30" stroke-width="1.80"/>
<line x1="1836.7" y1="27.7" x2="1836.7" y2="982.6" stroke="#55647E" stroke-width="1.60"/>
<line x1="1386.0" y1="982.0" x2="1837.4" y2="982.0" stroke="#10182C" stroke-width="2.00"/>
<line x1="1493.9" y1="982.0" x2="1493.9" y2="987.5" stroke="#2C4470" stroke-width="1.60"/>
<text x="1493.9" y="1020.9" font-size="26.0" text-anchor="middle">0.7</text>
<line x1="1601.5" y1="982.0" x2="1601.5" y2="987.5" stroke="#2C4470" stroke-width="1.60"/>
<text x="1601.5" y="1020.9" font-size="26.0" text-anchor="middle">0.8</text>
<line x1="1708.8" y1="982.0" x2="1708.8" y2="987.5" stroke="#2C4470" stroke-width="1.60"/>
<text x="1708.8" y="1020.9" font-size="26.0" text-anchor="middle">0.9</text>
<line x1="1816.2" y1="982.0" x2="1816.2" y2="987.5" stroke="#2C4470" stroke-width="1.60"/>
<text x="1816.2" y="1020.9" font-size="26.0" text-anchor="middle">1.0</text>
<text x="1631.6" y="1071.4" font-size="28.6" text-anchor="middle">Rich factor</text>
<rect x="1386.4" y="451.6" width="42.7" height="73.2" fill="none" stroke="#000" stroke-width="3.6"/>
<text x="1856.6" y="49.0" font-size="21.5">P-value</text>
<rect x="1868.0" y="69.1" width="21.4" height="206.4" fill="url(#gB)"/>
<line x1="1868.0" y1="74.1" x2="1872.3" y2="74.1" stroke="#fff" stroke-width="1.20"/>
<line x1="1885.1" y1="74.1" x2="1889.4" y2="74.1" stroke="#fff" stroke-width="1.20"/>
<line x1="1868.0" y1="124.9" x2="1872.3" y2="124.9" stroke="#fff" stroke-width="1.20"/>
<line x1="1885.1" y1="124.9" x2="1889.4" y2="124.9" stroke="#fff" stroke-width="1.20"/>
<line x1="1868.0" y1="175.3" x2="1872.3" y2="175.3" stroke="#fff" stroke-width="1.20"/>
<line x1="1885.1" y1="175.3" x2="1889.4" y2="175.3" stroke="#fff" stroke-width="1.20"/>
<line x1="1868.0" y1="225.6" x2="1872.3" y2="225.6" stroke="#fff" stroke-width="1.20"/>
<line x1="1885.1" y1="225.6" x2="1889.4" y2="225.6" stroke="#fff" stroke-width="1.20"/>
<line x1="1868.0" y1="275.0" x2="1872.3" y2="275.0" stroke="#fff" stroke-width="1.20"/>
<line x1="1885.1" y1="275.0" x2="1889.4" y2="275.0" stroke="#fff" stroke-width="1.20"/>
<text x="1898.1" y="81.8" font-size="20.8">1.00</text>
<text x="1898.1" y="132.1" font-size="20.8">0.75</text>
<text x="1898.1" y="182.1" font-size="20.8">0.50</text>
<text x="1898.1" y="233.1" font-size="20.8">0.25</text>
<text x="1898.1" y="277.8" font-size="20.8">0.00</text>
<text x="1857.1" y="327.3" font-size="21.5">number</text>
<circle cx="1883.1" cy="357.8" r="3.90" fill="#000"/>
<text x="1909.2" y="363.2" font-size="21.0">1</text>
<circle cx="1883.1" cy="395.2" r="7.90" fill="#000"/>
<text x="1909.2" y="400.6" font-size="21.0">2</text>
<circle cx="1883.1" cy="432.1" r="9.80" fill="#000"/>
<text x="1909.2" y="437.5" font-size="21.0">3</text>
<circle cx="1883.1" cy="469.2" r="11.00" fill="#000"/>
<text x="1909.2" y="474.6" font-size="21.0">4</text>
<circle cx="1883.1" cy="506.7" r="12.30" fill="#000"/>
<text x="1909.2" y="512.1" font-size="21.0">5</text>
<circle cx="1883.1" cy="543.6" r="13.30" fill="#000"/>
<text x="1909.2" y="549.0" font-size="21.0">6</text>
<circle cx="1883.1" cy="580.7" r="14.10" fill="#000"/>
<text x="1909.2" y="586.1" font-size="21.0">7</text>
</g>
<g id="panelC">
<line x1="195.6" y1="913.1" x2="195.6" y2="1106.4" stroke="#000" stroke-width="2.70"/>
<line x1="184.6" y1="1105.5" x2="330.0" y2="1105.5" stroke="#000" stroke-width="1.80"/>
<line x1="184.6" y1="914.1" x2="195.6" y2="914.1" stroke="#000" stroke-width="1.70"/>
<text x="180.9" y="922.3" font-size="30.0" text-anchor="end" textLength="66.8" lengthAdjust="spacingAndGlyphs">3000</text>
<line x1="184.6" y1="977.7" x2="195.6" y2="977.7" stroke="#000" stroke-width="1.70"/>
<text x="180.9" y="985.9" font-size="30.0" text-anchor="end" textLength="66.8" lengthAdjust="spacingAndGlyphs">2000</text>
<line x1="184.6" y1="1041.3" x2="195.6" y2="1041.3" stroke="#000" stroke-width="1.70"/>
<text x="180.9" y="1049.5" font-size="30.0" text-anchor="end" textLength="66.8" lengthAdjust="spacingAndGlyphs">1000</text>
<text x="180.9" y="1113.7" font-size="30.0" text-anchor="end" textLength="18.2" lengthAdjust="spacingAndGlyphs">0</text>
<text transform="translate(89.5,1006.2) rotate(-90)" font-size="33.4" text-anchor="middle" textLength="189.1" lengthAdjust="spacingAndGlyphs">R-5P (ng/ml)</text>
<line x1="212.3" y1="907.0" x2="285.1" y2="907.0" stroke="#000" stroke-width="4.30"/>
<text transform="translate(252.4,909.6) scale(1.02,0.88)" font-size="48" text-anchor="middle">**</text>
<line x1="234.0" y1="939.4" x2="234.0" y2="1001.2" stroke="#2222FF" stroke-width="1.30"/>
<line x1="224.0" y1="939.4" x2="243.6" y2="939.4" stroke="#2222FF" stroke-width="1.30"/>
<line x1="224.0" y1="1001.2" x2="243.6" y2="1001.2" stroke="#2222FF" stroke-width="1.30"/>
<line x1="214.9" y1="969.6" x2="253.0" y2="969.6" stroke="#000" stroke-width="2.00"/>
<circle cx="234.0" cy="935.0" r="2.90" fill="#0000FF"/>
<circle cx="222.9" cy="988.4" r="2.90" fill="#0000FF"/>
<circle cx="244.8" cy="987.0" r="2.90" fill="#0000FF"/>
<line x1="271.7" y1="1069.0" x2="310.0" y2="1069.0" stroke="#000" stroke-width="2.00"/>
<circle cx="280.0" cy="1069.3" r="2.80" fill="#FF3535"/>
<circle cx="290.8" cy="1068.6" r="2.80" fill="#FF3535"/>
<circle cx="301.9" cy="1069.0" r="2.80" fill="#FF3535"/>
<text x="204.6" y="1142.7" font-size="29.0" textLength="44.4" lengthAdjust="spacingAndGlyphs">WT</text>
<text x="257.6" y="1142.7" font-size="29.0" textLength="89.3" lengthAdjust="spacingAndGlyphs">STING</text>
<text x="346.9" y="1135.2" font-size="18.0" textLength="19.2" lengthAdjust="spacingAndGlyphs">-/-</text>
<line x1="521.8" y1="912.2" x2="521.8" y2="1106.0" stroke="#000" stroke-width="2.70"/>
<line x1="511.3" y1="1104.7" x2="646.0" y2="1104.7" stroke="#000" stroke-width="2.60"/>
<line x1="511.3" y1="913.2" x2="521.8" y2="913.2" stroke="#000" stroke-width="1.70"/>
<text x="506.9" y="921.4" font-size="30.0" text-anchor="end" textLength="76.3" lengthAdjust="spacingAndGlyphs">50000</text>
<line x1="511.3" y1="1009.0" x2="521.8" y2="1009.0" stroke="#000" stroke-width="1.70"/>
<text x="506.9" y="1017.2" font-size="30.0" text-anchor="end" textLength="76.3" lengthAdjust="spacingAndGlyphs">25000</text>
<text x="506.9" y="1112.9" font-size="30.0" text-anchor="end" textLength="16.9" lengthAdjust="spacingAndGlyphs">0</text>
<text transform="translate(404.4,1005.0) rotate(-90)" font-size="33.4" text-anchor="middle" textLength="191.4" lengthAdjust="spacingAndGlyphs">6-PG (ng/ml)</text>
<line x1="542.5" y1="930.7" x2="615.5" y2="930.7" stroke="#000" stroke-width="4.30"/>
<text transform="translate(578.7,930.3) scale(1.02,0.88)" font-size="48" text-anchor="middle">**</text>
<line x1="556.6" y1="956.1" x2="556.6" y2="1009.0" stroke="#2222FF" stroke-width="1.30"/>
<line x1="547.6" y1="956.1" x2="565.7" y2="956.1" stroke="#2222FF" stroke-width="1.30"/>
<line x1="547.6" y1="1009.0" x2="565.7" y2="1009.0" stroke="#2222FF" stroke-width="1.30"/>
<line x1="539.0" y1="982.8" x2="573.8" y2="982.8" stroke="#000" stroke-width="2.00"/>
<circle cx="556.6" cy="953.0" r="2.90" fill="#0000FF"/>
<circle cx="556.6" cy="991.5" r="2.90" fill="#0000FF"/>
<circle cx="556.6" cy="1003.8" r="2.90" fill="#0000FF"/>
<line x1="601.0" y1="1085.2" x2="617.5" y2="1085.2" stroke="#FF3030" stroke-width="1.20"/>
<line x1="601.0" y1="1092.6" x2="617.5" y2="1092.6" stroke="#FF3030" stroke-width="1.20"/>
<line x1="609.2" y1="1085.2" x2="609.2" y2="1092.6" stroke="#FF3030" stroke-width="1.20"/>
<line x1="591.6" y1="1089.3" x2="626.4" y2="1089.3" stroke="#000" stroke-width="2.00"/>
<circle cx="599.2" cy="1092.0" r="2.80" fill="#FF3535"/>
<circle cx="609.2" cy="1087.1" r="2.80" fill="#FF3535"/>
<circle cx="619.2" cy="1088.4" r="2.80" fill="#FF3535"/>
<text x="532.2" y="1141.7" font-size="29.0" textLength="44.4" lengthAdjust="spacingAndGlyphs">WT</text>
<text x="584.6" y="1141.7" font-size="29.0" textLength="90.5" lengthAdjust="spacingAndGlyphs">STING</text>
<text x="675.1" y="1134.2" font-size="18.0" textLength="18.5" lengthAdjust="spacingAndGlyphs">-/-</text>
<line x1="843.1" y1="912.2" x2="843.1" y2="1106.0" stroke="#000" stroke-width="2.70"/>
<line x1="832.2" y1="1104.7" x2="966.7" y2="1104.7" stroke="#000" stroke-width="2.60"/>
<line x1="832.2" y1="913.2" x2="843.1" y2="913.2" stroke="#000" stroke-width="1.70"/>
<text x="826.9" y="921.4" font-size="30.0" text-anchor="end" textLength="72.7" lengthAdjust="spacingAndGlyphs">10000</text>
<line x1="832.2" y1="1009.0" x2="843.1" y2="1009.0" stroke="#000" stroke-width="1.70"/>
<text x="826.9" y="1017.2" font-size="30.0" text-anchor="end" textLength="58.6" lengthAdjust="spacingAndGlyphs">5000</text>
<text x="826.9" y="1112.9" font-size="30.0" text-anchor="end" textLength="16.1" lengthAdjust="spacingAndGlyphs">0</text>
<text transform="translate(734.0,1008.2) rotate(-90)" font-size="33.4" text-anchor="middle" textLength="185.1" lengthAdjust="spacingAndGlyphs">F-6P (ng/ml)</text>
<line x1="859.4" y1="937.6" x2="932.3" y2="937.6" stroke="#000" stroke-width="4.30"/>
<text transform="translate(894.4,938.6) scale(1.02,0.88)" font-size="48" text-anchor="middle">***</text>
<line x1="877.5" y1="960.6" x2="877.5" y2="998.2" stroke="#2222FF" stroke-width="1.30"/>
<line x1="868.5" y1="960.6" x2="886.6" y2="960.6" stroke="#2222FF" stroke-width="1.30"/>
<line x1="868.5" y1="998.2" x2="886.6" y2="998.2" stroke="#2222FF" stroke-width="1.30"/>
<line x1="860.0" y1="979.3" x2="895.1" y2="979.3" stroke="#000" stroke-width="2.00"/>
<circle cx="877.5" cy="958.3" r="2.90" fill="#0000FF"/>
<circle cx="877.5" cy="986.6" r="2.90" fill="#0000FF"/>
<circle cx="877.5" cy="993.3" r="2.90" fill="#0000FF"/>
<line x1="922.5" y1="1071.7" x2="938.5" y2="1071.7" stroke="#FF3030" stroke-width="1.20"/>
<line x1="922.5" y1="1079.9" x2="938.5" y2="1079.9" stroke="#FF3030" stroke-width="1.20"/>
<line x1="930.5" y1="1071.7" x2="930.5" y2="1079.9" stroke="#FF3030" stroke-width="1.20"/>
<line x1="912.9" y1="1075.7" x2="947.3" y2="1075.7" stroke="#000" stroke-width="2.00"/>
<circle cx="920.1" cy="1078.8" r="2.80" fill="#FF3535"/>
<circle cx="930.1" cy="1071.2" r="2.80" fill="#FF3535"/>
<circle cx="940.1" cy="1078.4" r="2.80" fill="#FF3535"/>
<text x="849.4" y="1141.9" font-size="29.0" textLength="44.4" lengthAdjust="spacingAndGlyphs">WT</text>
<text x="902.2" y="1141.9" font-size="29.0" textLength="90.2" lengthAdjust="spacingAndGlyphs">STING</text>
<text x="992.4" y="1134.4" font-size="18.0" textLength="18.0" lengthAdjust="spacingAndGlyphs">-/-</text>
</g>
<g id="panelD">
<rect x="170.9" y="1238.6" width="46.6" height="24.8" fill="#0000FE"/>
<text x="227.2" y="1261.5" font-size="29.0" textLength="43.5" lengthAdjust="spacingAndGlyphs">WT</text>
<rect x="298.9" y="1238.6" width="45.3" height="26.1" fill="#F84040"/>
<text x="353.1" y="1261.5" font-size="29.0" textLength="90.4" lengthAdjust="spacingAndGlyphs">STING</text>
<rect x="220.6" y="1404.4" width="54.5" height="182.7" fill="#0000FE"/>
<rect x="311.4" y="1368.4" width="55.0" height="218.7" fill="#FE0000"/>
<line x1="188.8" y1="1307.5" x2="188.8" y2="1588.4" stroke="#000" stroke-width="2.70"/>
<line x1="176.6" y1="1587.1" x2="400.5" y2="1587.1" stroke="#000" stroke-width="2.70"/>
<line x1="176.6" y1="1308.5" x2="188.8" y2="1308.5" stroke="#000" stroke-width="2.40"/>
<text x="171.9" y="1316.9" font-size="30.0" text-anchor="end" textLength="42.8" lengthAdjust="spacingAndGlyphs">200</text>
<line x1="176.6" y1="1378.1" x2="188.8" y2="1378.1" stroke="#000" stroke-width="2.40"/>
<text x="171.9" y="1386.5" font-size="30.0" text-anchor="end" textLength="42.8" lengthAdjust="spacingAndGlyphs">150</text>
<line x1="176.6" y1="1447.9" x2="188.8" y2="1447.9" stroke="#000" stroke-width="2.40"/>
<text x="171.9" y="1456.3" font-size="30.0" text-anchor="end" textLength="42.8" lengthAdjust="spacingAndGlyphs">100</text>
<line x1="176.6" y1="1517.0" x2="188.8" y2="1517.0" stroke="#000" stroke-width="2.40"/>
<text x="171.9" y="1525.4" font-size="30.0" text-anchor="end" textLength="29.2" lengthAdjust="spacingAndGlyphs">50</text>
<text x="171.9" y="1595.5" font-size="30.0" text-anchor="end" textLength="15.6" lengthAdjust="spacingAndGlyphs">0</text>
<text transform="translate(91.5,1448.0) rotate(-90)" font-size="33.4" text-anchor="middle" textLength="288.0" lengthAdjust="spacingAndGlyphs">TKT activity (pg/ml)</text>
<line x1="234.9" y1="1332.8" x2="339.0" y2="1332.8" stroke="#000" stroke-width="4.20"/>
<text transform="translate(286.6,1335.0) scale(1.02,0.88)" font-size="48" text-anchor="middle">**</text>
<line x1="233.4" y1="1395.5" x2="263.6" y2="1395.5" stroke="#000" stroke-width="2.10"/>
<line x1="248.5" y1="1395.5" x2="248.5" y2="1404.4" stroke="#000" stroke-width="2.10"/>
<circle cx="232.3" cy="1407.0" r="3.95" fill="none" stroke="#000" stroke-width="2.4"/>
<circle cx="248.7" cy="1396.8" r="3.95" fill="none" stroke="#000" stroke-width="2.4"/>
<circle cx="264.8" cy="1401.4" r="3.95" fill="none" stroke="#000" stroke-width="2.4"/>
<line x1="325.0" y1="1359.4" x2="353.6" y2="1359.4" stroke="#000" stroke-width="2.10"/>
<line x1="339.3" y1="1359.4" x2="339.3" y2="1368.4" stroke="#000" stroke-width="2.10"/>
<circle cx="323.2" cy="1371.7" r="3.95" fill="none" stroke="#000" stroke-width="2.4"/>
<circle cx="339.6" cy="1358.9" r="3.95" fill="none" stroke="#000" stroke-width="2.4"/>
<circle cx="355.7" cy="1367.1" r="3.95" fill="none" stroke="#000" stroke-width="2.4"/>
<rect x="612.7" y="1364.0" width="55.0" height="223.1" fill="#0000FE"/>
<rect x="704.1" y="1333.8" width="54.5" height="253.3" fill="#F84040"/>
<line x1="581.5" y1="1307.5" x2="581.5" y2="1588.4" stroke="#000" stroke-width="2.70"/>
<line x1="569.2" y1="1587.1" x2="793.1" y2="1587.1" stroke="#000" stroke-width="2.70"/>
<line x1="569.2" y1="1308.5" x2="581.5" y2="1308.5" stroke="#000" stroke-width="2.40"/>
<text x="565.1" y="1316.9" font-size="30.0" text-anchor="end" textLength="43.7" lengthAdjust="spacingAndGlyphs">250</text>
<line x1="569.2" y1="1364.0" x2="581.5" y2="1364.0" stroke="#000" stroke-width="2.40"/>
<text x="565.1" y="1372.4" font-size="30.0" text-anchor="end" textLength="43.7" lengthAdjust="spacingAndGlyphs">200</text>
<line x1="569.2" y1="1420.3" x2="581.5" y2="1420.3" stroke="#000" stroke-width="2.40"/>
<text x="565.1" y="1428.7" font-size="30.0" text-anchor="end" textLength="43.7" lengthAdjust="spacingAndGlyphs">150</text>
<line x1="569.2" y1="1475.3" x2="581.5" y2="1475.3" stroke="#000" stroke-width="2.40"/>
<text x="565.1" y="1483.7" font-size="30.0" text-anchor="end" textLength="43.7" lengthAdjust="spacingAndGlyphs">100</text>
<line x1="569.2" y1="1530.8" x2="581.5" y2="1530.8" stroke="#000" stroke-width="2.40"/>
<text x="565.1" y="1539.2" font-size="30.0" text-anchor="end" textLength="29.8" lengthAdjust="spacingAndGlyphs">50</text>
<text x="565.1" y="1595.5" font-size="30.0" text-anchor="end" textLength="15.9" lengthAdjust="spacingAndGlyphs">0</text>
<text transform="translate(487.3,1444.0) rotate(-90)" font-size="33.4" text-anchor="middle" textLength="310.5" lengthAdjust="spacingAndGlyphs">G6PD activity (pg/ml)</text>
<line x1="626.8" y1="1303.9" x2="730.9" y2="1303.9" stroke="#000" stroke-width="4.20"/>
<text transform="translate(677.2,1305.6) scale(1.02,0.88)" font-size="48" text-anchor="middle">***</text>
<line x1="627.0" y1="1360.2" x2="655.0" y2="1360.2" stroke="#000" stroke-width="2.10"/>
<line x1="641.0" y1="1360.2" x2="641.0" y2="1364.0" stroke="#000" stroke-width="2.10"/>
<circle cx="624.7" cy="1364.8" r="3.95" fill="none" stroke="#000" stroke-width="2.4"/>
<circle cx="641.4" cy="1359.4" r="3.95" fill="none" stroke="#000" stroke-width="2.4"/>
<circle cx="657.5" cy="1361.4" r="3.95" fill="none" stroke="#000" stroke-width="2.4"/>
<line x1="717.6" y1="1326.9" x2="745.0" y2="1326.9" stroke="#000" stroke-width="2.10"/>
<line x1="731.3" y1="1326.9" x2="731.3" y2="1333.8" stroke="#000" stroke-width="2.10"/>
<circle cx="715.6" cy="1336.6" r="3.95" fill="none" stroke="#000" stroke-width="2.4"/>
<circle cx="731.7" cy="1327.7" r="3.95" fill="none" stroke="#000" stroke-width="2.4"/>
<circle cx="748.3" cy="1330.2" r="3.95" fill="none" stroke="#000" stroke-width="2.4"/>
</g>
<g id="panelE">
<rect x="942.1" y="1238.6" width="45.5" height="24.8" fill="#0000FE"/>
<text x="997.8" y="1261.5" font-size="29.0" textLength="42.8" lengthAdjust="spacingAndGlyphs">WT</text>
<rect x="1069.0" y="1238.6" width="46.5" height="26.1" fill="#F84040"/>
<text x="1124.0" y="1261.5" font-size="29.0" textLength="90.1" lengthAdjust="spacingAndGlyphs">STING</text>
<rect x="993.2" y="1509.1" width="54.5" height="76.8" fill="#0000FE"/>
<rect x="1085.6" y="1381.1" width="54.3" height="204.8" fill="#F84040"/>
<line x1="960.2" y1="1306.2" x2="960.2" y2="1587.2" stroke="#000" stroke-width="2.70"/>
<line x1="947.9" y1="1585.9" x2="1175.7" y2="1585.9" stroke="#000" stroke-width="2.70"/>
<line x1="947.9" y1="1307.2" x2="960.2" y2="1307.2" stroke="#000" stroke-width="2.40"/>
<text x="943.3" y="1315.6" font-size="30.0" text-anchor="end" textLength="27.8" lengthAdjust="spacingAndGlyphs">15</text>
<line x1="947.9" y1="1400.6" x2="960.2" y2="1400.6" stroke="#000" stroke-width="2.40"/>
<text x="943.3" y="1409.0" font-size="30.0" text-anchor="end" textLength="27.8" lengthAdjust="spacingAndGlyphs">10</text>
<line x1="947.9" y1="1493.7" x2="960.2" y2="1493.7" stroke="#000" stroke-width="2.40"/>
<text x="943.3" y="1502.1" font-size="30.0" text-anchor="end" textLength="14.9" lengthAdjust="spacingAndGlyphs">5</text>
<text x="943.3" y="1594.3" font-size="30.0" text-anchor="end" textLength="14.9" lengthAdjust="spacingAndGlyphs">0</text>
<text transform="translate(884.0,1449.0) rotate(-90)" font-size="33.4" text-anchor="middle" textLength="254.3" lengthAdjust="spacingAndGlyphs">GSH (μg/mg pro)</text>
<line x1="1009.4" y1="1350.7" x2="1114.3" y2="1350.7" stroke="#000" stroke-width="4.20"/>
<text transform="translate(1063.9,1352.9) scale(1.02,0.88)" font-size="48" text-anchor="middle">**</text>
<line x1="1006.0" y1="1488.1" x2="1036.2" y2="1488.1" stroke="#000" stroke-width="2.10"/>
<line x1="1021.1" y1="1488.1" x2="1021.1" y2="1509.1" stroke="#000" stroke-width="2.10"/>
<circle cx="1021.4" cy="1488.1" r="3.95" fill="none" stroke="#000" stroke-width="2.4"/>
<circle cx="1021.4" cy="1507.3" r="3.95" fill="none" stroke="#000" stroke-width="2.4"/>
<circle cx="1021.4" cy="1525.7" r="3.95" fill="none" stroke="#000" stroke-width="2.4"/>
<line x1="1098.0" y1="1376.6" x2="1128.0" y2="1376.6" stroke="#000" stroke-width="2.10"/>
<line x1="1113.0" y1="1376.6" x2="1113.0" y2="1381.1" stroke="#000" stroke-width="2.10"/>
<circle cx="1093.0" cy="1377.0" r="3.95" fill="none" stroke="#000" stroke-width="2.4"/>
<circle cx="1113.0" cy="1377.0" r="3.95" fill="none" stroke="#000" stroke-width="2.4"/>
<circle cx="1133.6" cy="1380.1" r="3.95" fill="none" stroke="#000" stroke-width="2.4"/>
<line x1="1362.5" y1="1453.0" x2="1422.5" y2="1453.0" stroke="rgba(120,120,255,0.55)" stroke-width="1.00"/>
<rect x="1365.0" y="1456.6" width="54.5" height="129.3" fill="#0000FE"/>
<rect x="1456.4" y="1379.4" width="54.5" height="206.5" fill="#F84040"/>
<line x1="1333.8" y1="1306.2" x2="1333.8" y2="1587.2" stroke="#000" stroke-width="2.70"/>
<line x1="1321.0" y1="1585.9" x2="1545.4" y2="1585.9" stroke="#000" stroke-width="2.70"/>
<line x1="1321.0" y1="1307.2" x2="1333.8" y2="1307.2" stroke="#000" stroke-width="2.40"/>
<text x="1318.2" y="1315.6" font-size="30.0" text-anchor="end" textLength="44.9" lengthAdjust="spacingAndGlyphs">250</text>
<line x1="1321.0" y1="1364.0" x2="1333.8" y2="1364.0" stroke="#000" stroke-width="2.40"/>
<text x="1318.2" y="1372.4" font-size="30.0" text-anchor="end" textLength="44.9" lengthAdjust="spacingAndGlyphs">200</text>
<line x1="1321.0" y1="1419.0" x2="1333.8" y2="1419.0" stroke="#000" stroke-width="2.40"/>
<text x="1318.2" y="1427.4" font-size="30.0" text-anchor="end" textLength="44.9" lengthAdjust="spacingAndGlyphs">150</text>
<line x1="1321.0" y1="1474.0" x2="1333.8" y2="1474.0" stroke="#000" stroke-width="2.40"/>
<text x="1318.2" y="1482.4" font-size="30.0" text-anchor="end" textLength="44.9" lengthAdjust="spacingAndGlyphs">100</text>
<line x1="1321.0" y1="1529.8" x2="1333.8" y2="1529.8" stroke="#000" stroke-width="2.40"/>
<text x="1318.2" y="1538.2" font-size="30.0" text-anchor="end" textLength="30.6" lengthAdjust="spacingAndGlyphs">50</text>
<text x="1318.2" y="1594.3" font-size="30.0" text-anchor="end" textLength="16.3" lengthAdjust="spacingAndGlyphs">0</text>
<text transform="translate(1242.2,1437.0) rotate(-90)" font-size="33.4" text-anchor="middle" textLength="306.7" lengthAdjust="spacingAndGlyphs">NADPH level (pg/ml)</text>
<line x1="1383.0" y1="1345.3" x2="1486.1" y2="1345.3" stroke="#000" stroke-width="4.20"/>
<text transform="translate(1434.1,1347.8) scale(1.02,0.88)" font-size="48" text-anchor="middle">***</text>
<line x1="1376.6" y1="1448.4" x2="1407.3" y2="1448.4" stroke="#000" stroke-width="2.10"/>
<line x1="1391.9" y1="1448.4" x2="1391.9" y2="1456.6" stroke="#000" stroke-width="2.10"/>
<line x1="1378.4" y1="1457.9" x2="1408.5" y2="1457.9" stroke="#000" stroke-width="2.10"/>
<circle cx="1373.5" cy="1447.7" r="3.95" fill="none" stroke="#000" stroke-width="2.4"/>
<circle cx="1392.4" cy="1453.6" r="3.95" fill="none" stroke="#000" stroke-width="2.4"/>
<circle cx="1412.9" cy="1457.9" r="3.95" fill="none" stroke="#000" stroke-width="2.4"/>
<line x1="1468.7" y1="1369.6" x2="1498.1" y2="1369.6" stroke="#000" stroke-width="2.10"/>
<line x1="1483.4" y1="1369.6" x2="1483.4" y2="1379.4" stroke="#000" stroke-width="2.10"/>
<circle cx="1483.5" cy="1368.4" r="3.95" fill="none" stroke="#000" stroke-width="2.4"/>
<circle cx="1478.9" cy="1378.1" r="3.95" fill="none" stroke="#000" stroke-width="2.4"/>
<circle cx="1489.2" cy="1383.7" r="3.95" fill="none" stroke="#000" stroke-width="2.4"/>
<rect x="1727.1" y="1366.8" width="55.0" height="220.1" fill="#0000FE"/>
<rect x="1818.0" y="1321.5" width="54.9" height="265.4" fill="#F84040"/>
<line x1="1696.0" y1="1307.5" x2="1696.0" y2="1588.2" stroke="#000" stroke-width="2.70"/>
<line x1="1683.7" y1="1586.9" x2="1907.7" y2="1586.9" stroke="#000" stroke-width="2.70"/>
<line x1="1683.7" y1="1308.5" x2="1696.0" y2="1308.5" stroke="#000" stroke-width="2.40"/>
<text x="1679.4" y="1316.9" font-size="30.0" text-anchor="end" textLength="43.1" lengthAdjust="spacingAndGlyphs">300</text>
<line x1="1683.7" y1="1401.6" x2="1696.0" y2="1401.6" stroke="#000" stroke-width="2.40"/>
<text x="1679.4" y="1410.0" font-size="30.0" text-anchor="end" textLength="43.1" lengthAdjust="spacingAndGlyphs">200</text>
<line x1="1683.7" y1="1493.8" x2="1696.0" y2="1493.8" stroke="#000" stroke-width="2.40"/>
<text x="1679.4" y="1502.2" font-size="30.0" text-anchor="end" textLength="43.1" lengthAdjust="spacingAndGlyphs">100</text>
<text x="1679.4" y="1595.3" font-size="30.0" text-anchor="end" textLength="15.7" lengthAdjust="spacingAndGlyphs">0</text>
<text transform="translate(1604.1,1449.6) rotate(-90)" font-size="33.4" text-anchor="middle" textLength="274.7" lengthAdjust="spacingAndGlyphs">R-5P level  (pg/ml)</text>
<line x1="1750.5" y1="1285.6" x2="1848.4" y2="1285.6" stroke="#000" stroke-width="4.20"/>
<text transform="translate(1800.8,1289.5) scale(1.02,0.88)" font-size="48" text-anchor="middle">**</text>
<line x1="1740.9" y1="1358.6" x2="1768.8" y2="1358.6" stroke="#000" stroke-width="2.10"/>
<line x1="1754.8" y1="1358.6" x2="1754.8" y2="1366.8" stroke="#000" stroke-width="2.10"/>
<circle cx="1739.0" cy="1370.7" r="3.95" fill="none" stroke="#000" stroke-width="2.4"/>
<circle cx="1755.5" cy="1359.3" r="3.95" fill="none" stroke="#000" stroke-width="2.4"/>
<circle cx="1771.5" cy="1365.0" r="3.95" fill="none" stroke="#000" stroke-width="2.4"/>
<line x1="1831.7" y1="1310.6" x2="1860.3" y2="1310.6" stroke="#000" stroke-width="2.10"/>
<line x1="1846.0" y1="1310.6" x2="1846.0" y2="1321.5" stroke="#000" stroke-width="2.10"/>
<circle cx="1830.1" cy="1324.5" r="3.95" fill="none" stroke="#000" stroke-width="2.4"/>
<circle cx="1846.6" cy="1309.7" r="3.95" fill="none" stroke="#000" stroke-width="2.4"/>
<circle cx="1863.0" cy="1322.0" r="3.95" fill="none" stroke="#000" stroke-width="2.4"/>
</g>
<g id="panelF">
<rect x="172.0" y="1669.9" width="45.5" height="24.8" fill="#0000FE"/>
<rect x="173.0" y="1670.9" width="43.5" height="22.8" fill="none" stroke="#4A4AFF" stroke-width="2"/>
<text x="225.7" y="1693.3" font-size="29.0" textLength="43.5" lengthAdjust="spacingAndGlyphs">WT</text>
<rect x="298.9" y="1669.9" width="45.3" height="26.1" fill="#F84040"/>
<text x="353.1" y="1693.3" font-size="29.0" textLength="121.6" lengthAdjust="spacingAndGlyphs">shSTING</text>
<rect x="221.5" y="1828.3" width="55.0" height="195.3" fill="#0000FE"/>
<rect x="312.4" y="1916.7" width="54.9" height="106.9" fill="#F84040"/>
<line x1="188.7" y1="1744.2" x2="188.7" y2="2024.9" stroke="#000" stroke-width="2.70"/>
<line x1="177.6" y1="2023.6" x2="401.9" y2="2023.6" stroke="#000" stroke-width="2.70"/>
<line x1="177.6" y1="1745.2" x2="188.7" y2="1745.2" stroke="#000" stroke-width="2.40"/>
<text x="171.8" y="1753.6" font-size="30.0" text-anchor="end" textLength="42.5" lengthAdjust="spacingAndGlyphs">200</text>
<line x1="177.6" y1="1814.2" x2="188.7" y2="1814.2" stroke="#000" stroke-width="2.40"/>
<text x="171.8" y="1822.6" font-size="30.0" text-anchor="end" textLength="42.5" lengthAdjust="spacingAndGlyphs">150</text>
<line x1="177.6" y1="1884.6" x2="188.7" y2="1884.6" stroke="#000" stroke-width="2.40"/>
<text x="171.8" y="1893.0" font-size="30.0" text-anchor="end" textLength="42.5" lengthAdjust="spacingAndGlyphs">100</text>
<line x1="177.6" y1="1954.5" x2="188.7" y2="1954.5" stroke="#000" stroke-width="2.40"/>
<text x="171.8" y="1962.9" font-size="30.0" text-anchor="end" textLength="29.0" lengthAdjust="spacingAndGlyphs">50</text>
<text x="171.8" y="2032.0" font-size="30.0" text-anchor="end" textLength="15.5" lengthAdjust="spacingAndGlyphs">0</text>
<text transform="translate(91.5,1887.4) rotate(-90)" font-size="33.4" text-anchor="middle" textLength="288.7" lengthAdjust="spacingAndGlyphs">TKT activity (pg/ml)</text>
<line x1="241.2" y1="1781.7" x2="344.3" y2="1781.7" stroke="#000" stroke-width="4.20"/>
<text transform="translate(290.7,1785.3) scale(1.02,0.88)" font-size="48" text-anchor="middle">***</text>
<line x1="234.2" y1="1809.2" x2="263.8" y2="1809.2" stroke="#000" stroke-width="2.10"/>
<line x1="249.0" y1="1809.2" x2="249.0" y2="1828.3" stroke="#000" stroke-width="2.10"/>
<circle cx="248.9" cy="1807.8" r="3.95" fill="none" stroke="#000" stroke-width="2.4"/>
<circle cx="244.1" cy="1829.7" r="3.95" fill="none" stroke="#000" stroke-width="2.4"/>
<circle cx="254.0" cy="1837.4" r="3.95" fill="none" stroke="#000" stroke-width="2.4"/>
<line x1="325.2" y1="1902.9" x2="354.7" y2="1902.9" stroke="#000" stroke-width="2.10"/>
<line x1="339.9" y1="1902.9" x2="339.9" y2="1916.7" stroke="#000" stroke-width="2.10"/>
<circle cx="335.1" cy="1906.3" r="3.95" fill="none" stroke="#000" stroke-width="2.4"/>
<circle cx="345.1" cy="1909.7" r="3.95" fill="none" stroke="#000" stroke-width="2.4"/>
<circle cx="340.0" cy="1927.2" r="3.95" fill="none" stroke="#000" stroke-width="2.4"/>
<rect x="612.8" y="1792.7" width="55.1" height="230.1" fill="#0000FE"/>
<rect x="704.2" y="1856.0" width="54.4" height="166.8" fill="#F84040"/>
<line x1="581.5" y1="1743.1" x2="581.5" y2="2024.5" stroke="#000" stroke-width="2.70"/>
<line x1="569.4" y1="2022.8" x2="793.3" y2="2022.8" stroke="#000" stroke-width="3.50"/>
<line x1="569.4" y1="1744.1" x2="581.5" y2="1744.1" stroke="#000" stroke-width="2.40"/>
<text x="564.8" y="1752.5" font-size="30.0" text-anchor="end" textLength="43.1" lengthAdjust="spacingAndGlyphs">250</text>
<line x1="569.4" y1="1800.1" x2="581.5" y2="1800.1" stroke="#000" stroke-width="2.40"/>
<text x="564.8" y="1808.5" font-size="30.0" text-anchor="end" textLength="43.1" lengthAdjust="spacingAndGlyphs">200</text>
<line x1="569.4" y1="1856.0" x2="581.5" y2="1856.0" stroke="#000" stroke-width="2.40"/>
<text x="564.8" y="1864.4" font-size="30.0" text-anchor="end" textLength="43.1" lengthAdjust="spacingAndGlyphs">150</text>
<line x1="569.4" y1="1912.0" x2="581.5" y2="1912.0" stroke="#000" stroke-width="2.40"/>
<text x="564.8" y="1920.4" font-size="30.0" text-anchor="end" textLength="43.1" lengthAdjust="spacingAndGlyphs">100</text>
<line x1="569.4" y1="1967.3" x2="581.5" y2="1967.3" stroke="#000" stroke-width="2.40"/>
<text x="564.8" y="1975.7" font-size="30.0" text-anchor="end" textLength="29.4" lengthAdjust="spacingAndGlyphs">50</text>
<text x="564.8" y="2031.2" font-size="30.0" text-anchor="end" textLength="15.7" lengthAdjust="spacingAndGlyphs">0</text>
<text transform="translate(487.0,1880.6) rotate(-90)" font-size="33.4" text-anchor="middle" textLength="310.5" lengthAdjust="spacingAndGlyphs">G6PD activity (pg/ml)</text>
<line x1="632.5" y1="1760.2" x2="736.6" y2="1760.2" stroke="#000" stroke-width="4.20"/>
<text transform="translate(682.4,1760.4) scale(1.02,0.88)" font-size="48" text-anchor="middle">***</text>
<line x1="625.8" y1="1782.2" x2="655.4" y2="1782.2" stroke="#000" stroke-width="2.10"/>
<line x1="640.6" y1="1782.2" x2="640.6" y2="1792.7" stroke="#000" stroke-width="2.10"/>
<circle cx="640.4" cy="1782.8" r="3.95" fill="none" stroke="#000" stroke-width="2.4"/>
<circle cx="635.9" cy="1788.9" r="3.95" fill="none" stroke="#000" stroke-width="2.4"/>
<circle cx="646.4" cy="1797.4" r="3.95" fill="none" stroke="#000" stroke-width="2.4"/>
<line x1="716.9" y1="1842.6" x2="746.2" y2="1842.6" stroke="#000" stroke-width="2.10"/>
<line x1="731.5" y1="1842.6" x2="731.5" y2="1856.0" stroke="#000" stroke-width="2.10"/>
<circle cx="726.5" cy="1844.4" r="3.95" fill="none" stroke="#000" stroke-width="2.4"/>
<circle cx="736.6" cy="1850.4" r="3.95" fill="none" stroke="#000" stroke-width="2.4"/>
<circle cx="731.5" cy="1865.7" r="3.95" fill="none" stroke="#000" stroke-width="2.4"/>
</g>
<g id="panelG">
<rect x="936.9" y="1670.4" width="44.8" height="24.3" fill="#0000FE"/>
<rect x="937.9" y="1671.4" width="42.8" height="22.3" fill="none" stroke="#4A4AFF" stroke-width="2"/>
<text x="990.9" y="1693.3" font-size="29.0" textLength="42.0" lengthAdjust="spacingAndGlyphs">WT</text>
<rect x="1064.9" y="1670.4" width="45.0" height="24.3" fill="#F84040"/>
<text x="1118.6" y="1693.3" font-size="29.0" textLength="121.6" lengthAdjust="spacingAndGlyphs">shSTING</text>
<rect x="997.3" y="1771.7" width="60.7" height="252.1" fill="#0000FE"/>
<rect x="1098.1" y="1902.8" width="60.2" height="121.0" fill="#F84040"/>
<line x1="960.2" y1="1744.4" x2="960.2" y2="2025.1" stroke="#000" stroke-width="2.70"/>
<line x1="947.9" y1="2023.8" x2="1196.7" y2="2023.8" stroke="#000" stroke-width="2.70"/>
<line x1="947.9" y1="1745.4" x2="960.2" y2="1745.4" stroke="#000" stroke-width="2.40"/>
<text x="943.3" y="1753.8" font-size="30.0" text-anchor="end" textLength="15.5" lengthAdjust="spacingAndGlyphs">5</text>
<line x1="947.9" y1="1800.9" x2="960.2" y2="1800.9" stroke="#000" stroke-width="2.40"/>
<text x="943.3" y="1809.3" font-size="30.0" text-anchor="end" textLength="15.5" lengthAdjust="spacingAndGlyphs">4</text>
<line x1="947.9" y1="1856.7" x2="960.2" y2="1856.7" stroke="#000" stroke-width="2.40"/>
<text x="943.3" y="1865.1" font-size="30.0" text-anchor="end" textLength="15.5" lengthAdjust="spacingAndGlyphs">3</text>
<line x1="947.9" y1="1912.2" x2="960.2" y2="1912.2" stroke="#000" stroke-width="2.40"/>
<text x="943.3" y="1920.6" font-size="30.0" text-anchor="end" textLength="15.5" lengthAdjust="spacingAndGlyphs">2</text>
<line x1="947.9" y1="1967.5" x2="960.2" y2="1967.5" stroke="#000" stroke-width="2.40"/>
<text x="943.3" y="1975.9" font-size="30.0" text-anchor="end" textLength="15.5" lengthAdjust="spacingAndGlyphs">1</text>
<text x="943.3" y="2032.2" font-size="30.0" text-anchor="end" textLength="15.5" lengthAdjust="spacingAndGlyphs">0</text>
<text transform="translate(884.0,1886.8) rotate(-90)" font-size="33.4" text-anchor="middle" textLength="254.2" lengthAdjust="spacingAndGlyphs">GSH (μg/mg pro)</text>
<line x1="1014.0" y1="1744.9" x2="1118.1" y2="1744.9" stroke="#000" stroke-width="4.20"/>
<text transform="translate(1066.9,1747.1) scale(1.02,0.88)" font-size="48" text-anchor="middle">***</text>
<line x1="1009.4" y1="1767.9" x2="1045.2" y2="1767.9" stroke="#000" stroke-width="2.10"/>
<line x1="1027.3" y1="1767.9" x2="1027.3" y2="1771.7" stroke="#000" stroke-width="2.10"/>
<circle cx="1009.4" cy="1771.0" r="3.95" fill="none" stroke="#000" stroke-width="2.4"/>
<circle cx="1027.3" cy="1767.9" r="3.95" fill="none" stroke="#000" stroke-width="2.4"/>
<circle cx="1045.2" cy="1769.2" r="3.95" fill="none" stroke="#000" stroke-width="2.4"/>
<line x1="1109.7" y1="1898.9" x2="1145.5" y2="1898.9" stroke="#000" stroke-width="2.10"/>
<line x1="1127.6" y1="1898.9" x2="1127.6" y2="1902.8" stroke="#000" stroke-width="2.10"/>
<circle cx="1109.7" cy="1903.3" r="3.95" fill="none" stroke="#000" stroke-width="2.4"/>
<circle cx="1127.8" cy="1898.9" r="3.95" fill="none" stroke="#000" stroke-width="2.4"/>
<circle cx="1145.5" cy="1900.7" r="3.95" fill="none" stroke="#000" stroke-width="2.4"/>
<rect x="1363.8" y="1811.9" width="55.0" height="211.9" fill="#0000FE"/>
<rect x="1454.6" y="1889.2" width="55.0" height="134.6" fill="#F84040"/>
<line x1="1332.5" y1="1744.4" x2="1332.5" y2="2025.1" stroke="#000" stroke-width="2.70"/>
<line x1="1320.3" y1="2023.8" x2="1543.7" y2="2023.8" stroke="#000" stroke-width="2.70"/>
<line x1="1320.3" y1="1745.4" x2="1332.5" y2="1745.4" stroke="#000" stroke-width="2.40"/>
<text x="1314.9" y="1753.8" font-size="30.0" text-anchor="end" textLength="41.9" lengthAdjust="spacingAndGlyphs">150</text>
<line x1="1320.3" y1="1838.0" x2="1332.5" y2="1838.0" stroke="#000" stroke-width="2.40"/>
<text x="1314.9" y="1846.4" font-size="30.0" text-anchor="end" textLength="41.9" lengthAdjust="spacingAndGlyphs">100</text>
<line x1="1320.3" y1="1930.4" x2="1332.5" y2="1930.4" stroke="#000" stroke-width="2.40"/>
<text x="1314.9" y="1938.8" font-size="30.0" text-anchor="end" textLength="28.6" lengthAdjust="spacingAndGlyphs">50</text>
<text x="1314.9" y="2032.2" font-size="30.0" text-anchor="end" textLength="15.3" lengthAdjust="spacingAndGlyphs">0</text>
<text transform="translate(1242.2,1877.9) rotate(-90)" font-size="33.4" text-anchor="middle" textLength="302.8" lengthAdjust="spacingAndGlyphs">NADPH level (pg/ml)</text>
<line x1="1383.0" y1="1776.6" x2="1487.9" y2="1776.6" stroke="#000" stroke-width="4.20"/>
<text transform="translate(1436.7,1779.1) scale(1.02,0.88)" font-size="48" text-anchor="middle">***</text>
<line x1="1377.1" y1="1799.1" x2="1406.0" y2="1799.1" stroke="#000" stroke-width="2.10"/>
<line x1="1391.5" y1="1799.1" x2="1391.5" y2="1811.9" stroke="#000" stroke-width="2.10"/>
<circle cx="1375.3" cy="1818.3" r="3.95" fill="none" stroke="#000" stroke-width="2.4"/>
<circle cx="1391.9" cy="1798.4" r="3.95" fill="none" stroke="#000" stroke-width="2.4"/>
<circle cx="1408.5" cy="1810.1" r="3.95" fill="none" stroke="#000" stroke-width="2.4"/>
<line x1="1468.2" y1="1881.0" x2="1496.8" y2="1881.0" stroke="#000" stroke-width="2.10"/>
<line x1="1482.5" y1="1881.0" x2="1482.5" y2="1889.2" stroke="#000" stroke-width="2.10"/>
<circle cx="1466.6" cy="1892.0" r="3.95" fill="none" stroke="#000" stroke-width="2.4"/>
<circle cx="1482.8" cy="1881.0" r="3.95" fill="none" stroke="#000" stroke-width="2.4"/>
<circle cx="1498.9" cy="1886.6" r="3.95" fill="none" stroke="#000" stroke-width="2.4"/>
<rect x="1726.9" y="1813.2" width="55.3" height="209.9" fill="#0000FE"/>
<rect x="1818.2" y="1848.9" width="54.9" height="174.2" fill="#F84040"/>
<line x1="1695.7" y1="1743.9" x2="1695.7" y2="2024.4" stroke="#000" stroke-width="2.70"/>
<line x1="1683.6" y1="2023.1" x2="1907.6" y2="2023.1" stroke="#000" stroke-width="2.70"/>
<line x1="1683.6" y1="1744.9" x2="1695.7" y2="1744.9" stroke="#000" stroke-width="2.40"/>
<text x="1678.8" y="1753.3" font-size="30.0" text-anchor="end" textLength="42.8" lengthAdjust="spacingAndGlyphs">300</text>
<line x1="1683.6" y1="1838.1" x2="1695.7" y2="1838.1" stroke="#000" stroke-width="2.40"/>
<text x="1678.8" y="1846.5" font-size="30.0" text-anchor="end" textLength="42.8" lengthAdjust="spacingAndGlyphs">200</text>
<line x1="1683.6" y1="1930.1" x2="1695.7" y2="1930.1" stroke="#000" stroke-width="2.40"/>
<text x="1678.8" y="1938.5" font-size="30.0" text-anchor="end" textLength="42.8" lengthAdjust="spacingAndGlyphs">100</text>
<text x="1678.8" y="2031.5" font-size="30.0" text-anchor="end" textLength="15.6" lengthAdjust="spacingAndGlyphs">0</text>
<text transform="translate(1604.2,1883.6) rotate(-90)" font-size="33.4" text-anchor="middle" textLength="274.3" lengthAdjust="spacingAndGlyphs">R-5P level  (pg/ml)</text>
<line x1="1742.4" y1="1776.1" x2="1846.8" y2="1776.1" stroke="#000" stroke-width="4.20"/>
<text transform="translate(1791.5,1776.7) scale(1.02,0.88)" font-size="48" text-anchor="middle">**</text>
<line x1="1740.7" y1="1800.9" x2="1770.0" y2="1800.9" stroke="#000" stroke-width="2.10"/>
<line x1="1755.3" y1="1800.9" x2="1755.3" y2="1813.2" stroke="#000" stroke-width="2.10"/>
<circle cx="1739.2" cy="1817.5" r="3.95" fill="none" stroke="#000" stroke-width="2.4"/>
<circle cx="1755.3" cy="1799.2" r="3.95" fill="none" stroke="#000" stroke-width="2.4"/>
<circle cx="1771.9" cy="1814.9" r="3.95" fill="none" stroke="#000" stroke-width="2.4"/>
<line x1="1831.8" y1="1841.4" x2="1860.4" y2="1841.4" stroke="#000" stroke-width="2.10"/>
<line x1="1846.1" y1="1841.4" x2="1846.1" y2="1848.9" stroke="#000" stroke-width="2.10"/>
<circle cx="1830.1" cy="1852.1" r="3.95" fill="none" stroke="#000" stroke-width="2.4"/>
<circle cx="1846.2" cy="1842.4" r="3.95" fill="none" stroke="#000" stroke-width="2.4"/>
<circle cx="1862.4" cy="1845.7" r="3.95" fill="none" stroke="#000" stroke-width="2.4"/>
</g>
</svg></body></html>
